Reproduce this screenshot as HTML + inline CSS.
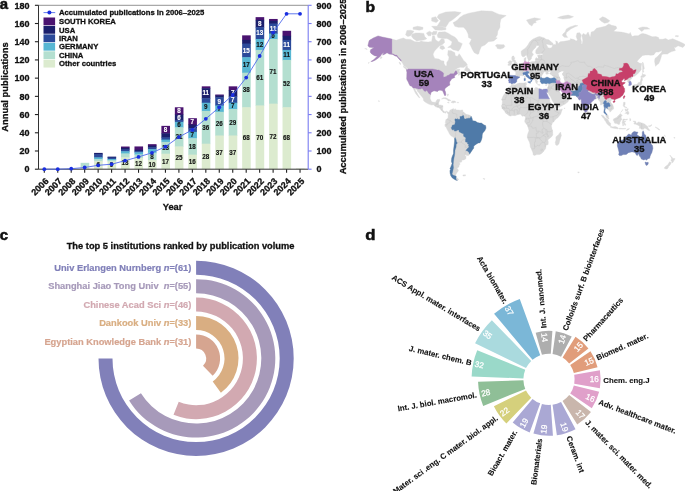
<!DOCTYPE html>
<html lang="en"><head><meta charset="utf-8"><title>Figure</title>
<style>
html,body{margin:0;padding:0;background:#fff;}
body{width:685px;height:491px;overflow:hidden;}
svg{display:block;font-family:'Liberation Sans', sans-serif;}
</style></head><body>
<svg width="685" height="491" viewBox="0 0 685 491">
<rect width="685" height="491" fill="#fff"/>
<g id="panel-a">
<rect x="67.17" y="168.29" width="8.6" height="0.91" fill="#dcebcf"/>
<rect x="80.63" y="162.83" width="8.6" height="4.55" fill="#b4dfd0"/>
<rect x="80.63" y="166.92" width="8.6" height="2.28" fill="#dcebcf"/>
<rect x="94.09" y="152.90" width="8.6" height="1.91" fill="#1b1f6c"/>
<rect x="94.09" y="154.36" width="8.6" height="3.45" fill="#2b4a9a"/>
<rect x="94.09" y="157.36" width="8.6" height="2.27" fill="#58b7d3"/>
<rect x="94.09" y="159.18" width="8.6" height="2.27" fill="#b4dfd0"/>
<rect x="94.09" y="161.00" width="8.6" height="8.19" fill="#dcebcf"/>
<rect x="107.55" y="156.63" width="8.6" height="1.36" fill="#1b1f6c"/>
<rect x="107.55" y="157.54" width="8.6" height="1.91" fill="#2b4a9a"/>
<rect x="107.55" y="159.00" width="8.6" height="1.63" fill="#58b7d3"/>
<rect x="107.55" y="160.19" width="8.6" height="1.63" fill="#b4dfd0"/>
<rect x="107.55" y="161.37" width="8.6" height="7.83" fill="#dcebcf"/>
<rect x="121.01" y="146.53" width="8.6" height="1.72" fill="#4a1370"/>
<rect x="121.01" y="147.80" width="8.6" height="2.09" fill="#1b1f6c"/>
<rect x="121.01" y="149.44" width="8.6" height="2.27" fill="#2b4a9a"/>
<rect x="121.01" y="151.26" width="8.6" height="2.64" fill="#58b7d3"/>
<rect x="121.01" y="153.45" width="8.6" height="4.37" fill="#b4dfd0"/>
<rect x="121.01" y="157.36" width="8.6" height="11.84" fill="#dcebcf"/>
<rect x="134.47" y="146.44" width="8.6" height="3.82" fill="#4a1370"/>
<rect x="134.47" y="149.81" width="8.6" height="1.72" fill="#1b1f6c"/>
<rect x="134.47" y="151.08" width="8.6" height="1.63" fill="#2b4a9a"/>
<rect x="134.47" y="152.26" width="8.6" height="2.64" fill="#58b7d3"/>
<rect x="134.47" y="154.45" width="8.6" height="4.00" fill="#b4dfd0"/>
<rect x="134.47" y="158.00" width="8.6" height="11.20" fill="#dcebcf"/>
<rect x="147.93" y="144.16" width="8.6" height="1.91" fill="#4a1370"/>
<rect x="147.93" y="145.62" width="8.6" height="2.18" fill="#1b1f6c"/>
<rect x="147.93" y="147.35" width="8.6" height="2.27" fill="#2b4a9a"/>
<rect x="147.93" y="149.17" width="8.6" height="4.09" fill="#58b7d3"/>
<rect x="147.93" y="152.81" width="8.6" height="7.73" fill="#b4dfd0"/>
<rect x="147.93" y="160.09" width="8.6" height="9.11" fill="#dcebcf"/>
<rect x="161.39" y="125.86" width="8.6" height="7.92" fill="#4a1370"/>
<rect x="161.39" y="133.32" width="8.6" height="4.55" fill="#1b1f6c"/>
<rect x="161.39" y="137.42" width="8.6" height="2.64" fill="#2b4a9a"/>
<rect x="161.39" y="139.61" width="8.6" height="2.73" fill="#58b7d3"/>
<rect x="161.39" y="141.88" width="8.6" height="12.29" fill="#b4dfd0"/>
<rect x="161.39" y="153.72" width="8.6" height="15.48" fill="#dcebcf"/>
<rect x="174.85" y="107.28" width="8.6" height="7.73" fill="#4a1370"/>
<rect x="174.85" y="114.57" width="8.6" height="5.91" fill="#1b1f6c"/>
<rect x="174.85" y="120.03" width="8.6" height="2.27" fill="#2b4a9a"/>
<rect x="174.85" y="121.85" width="8.6" height="5.91" fill="#58b7d3"/>
<rect x="174.85" y="127.31" width="8.6" height="19.57" fill="#b4dfd0"/>
<rect x="174.85" y="146.44" width="8.6" height="22.76" fill="#dcebcf"/>
<rect x="188.31" y="118.21" width="8.6" height="6.82" fill="#4a1370"/>
<rect x="188.31" y="124.58" width="8.6" height="4.09" fill="#1b1f6c"/>
<rect x="188.31" y="128.22" width="8.6" height="4.09" fill="#2b4a9a"/>
<rect x="188.31" y="131.87" width="8.6" height="6.82" fill="#58b7d3"/>
<rect x="188.31" y="138.24" width="8.6" height="16.84" fill="#b4dfd0"/>
<rect x="188.31" y="154.63" width="8.6" height="14.57" fill="#dcebcf"/>
<rect x="201.77" y="86.34" width="8.6" height="2.27" fill="#4a1370"/>
<rect x="201.77" y="88.16" width="8.6" height="10.47" fill="#1b1f6c"/>
<rect x="201.77" y="98.18" width="8.6" height="5.00" fill="#2b4a9a"/>
<rect x="201.77" y="102.73" width="8.6" height="8.65" fill="#58b7d3"/>
<rect x="201.77" y="110.92" width="8.6" height="33.23" fill="#b4dfd0"/>
<rect x="201.77" y="143.70" width="8.6" height="25.50" fill="#dcebcf"/>
<rect x="215.23" y="94.53" width="8.6" height="1.36" fill="#4a1370"/>
<rect x="215.23" y="95.45" width="8.6" height="2.27" fill="#1b1f6c"/>
<rect x="215.23" y="97.27" width="8.6" height="8.65" fill="#2b4a9a"/>
<rect x="215.23" y="105.46" width="8.6" height="6.82" fill="#58b7d3"/>
<rect x="215.23" y="111.83" width="8.6" height="24.12" fill="#b4dfd0"/>
<rect x="215.23" y="135.51" width="8.6" height="33.69" fill="#dcebcf"/>
<rect x="228.69" y="86.34" width="8.6" height="4.09" fill="#4a1370"/>
<rect x="228.69" y="89.98" width="8.6" height="6.82" fill="#1b1f6c"/>
<rect x="228.69" y="96.36" width="8.6" height="6.82" fill="#2b4a9a"/>
<rect x="228.69" y="102.73" width="8.6" height="6.82" fill="#58b7d3"/>
<rect x="228.69" y="109.10" width="8.6" height="26.86" fill="#b4dfd0"/>
<rect x="228.69" y="135.51" width="8.6" height="33.69" fill="#dcebcf"/>
<rect x="242.15" y="35.35" width="8.6" height="5.00" fill="#4a1370"/>
<rect x="242.15" y="39.90" width="8.6" height="4.09" fill="#1b1f6c"/>
<rect x="242.15" y="43.54" width="8.6" height="14.11" fill="#2b4a9a"/>
<rect x="242.15" y="57.20" width="8.6" height="15.93" fill="#58b7d3"/>
<rect x="242.15" y="72.68" width="8.6" height="35.05" fill="#b4dfd0"/>
<rect x="242.15" y="107.28" width="8.6" height="61.92" fill="#dcebcf"/>
<rect x="255.61" y="17.14" width="8.6" height="3.18" fill="#4a1370"/>
<rect x="255.61" y="19.87" width="8.6" height="7.73" fill="#1b1f6c"/>
<rect x="255.61" y="27.15" width="8.6" height="12.29" fill="#2b4a9a"/>
<rect x="255.61" y="38.99" width="8.6" height="11.38" fill="#58b7d3"/>
<rect x="255.61" y="49.92" width="8.6" height="55.99" fill="#b4dfd0"/>
<rect x="255.61" y="105.46" width="8.6" height="63.74" fill="#dcebcf"/>
<rect x="269.07" y="18.96" width="8.6" height="2.27" fill="#4a1370"/>
<rect x="269.07" y="20.78" width="8.6" height="3.18" fill="#1b1f6c"/>
<rect x="269.07" y="23.51" width="8.6" height="10.47" fill="#2b4a9a"/>
<rect x="269.07" y="33.53" width="8.6" height="5.91" fill="#58b7d3"/>
<rect x="269.07" y="38.99" width="8.6" height="65.10" fill="#b4dfd0"/>
<rect x="269.07" y="103.64" width="8.6" height="65.56" fill="#dcebcf"/>
<rect x="282.53" y="30.80" width="8.6" height="5.46" fill="#4a1370"/>
<rect x="282.53" y="35.80" width="8.6" height="4.55" fill="#1b1f6c"/>
<rect x="282.53" y="39.90" width="8.6" height="10.47" fill="#2b4a9a"/>
<rect x="282.53" y="49.92" width="8.6" height="10.47" fill="#58b7d3"/>
<rect x="282.53" y="59.93" width="8.6" height="47.80" fill="#b4dfd0"/>
<rect x="282.53" y="107.28" width="8.6" height="61.92" fill="#dcebcf"/>
<rect x="295.99" y="168.47" width="8.6" height="0.73" fill="#dcebcf"/>
<path d="M38.5 5.3 H308.2" stroke="#777" stroke-width="0.8" fill="none"/>
<path d="M38.5 5.3 V169.2 H308.2" stroke="#333" stroke-width="1" fill="none"/>
<path d="M34.9 169.20 H38.5" stroke="#222" stroke-width="1.1"/>
<text x="29.60" y="172.45" font-size="9.0" text-anchor="end" fill="#111" stroke="#111" stroke-width="0.3" font-weight="bold">0</text>
<path d="M34.9 150.99 H38.5" stroke="#222" stroke-width="1.1"/>
<text x="29.60" y="154.24" font-size="9.0" text-anchor="end" fill="#111" stroke="#111" stroke-width="0.3" font-weight="bold">20</text>
<path d="M34.9 132.78 H38.5" stroke="#222" stroke-width="1.1"/>
<text x="29.60" y="136.03" font-size="9.0" text-anchor="end" fill="#111" stroke="#111" stroke-width="0.3" font-weight="bold">40</text>
<path d="M34.9 114.57 H38.5" stroke="#222" stroke-width="1.1"/>
<text x="29.60" y="117.82" font-size="9.0" text-anchor="end" fill="#111" stroke="#111" stroke-width="0.3" font-weight="bold">60</text>
<path d="M34.9 96.36 H38.5" stroke="#222" stroke-width="1.1"/>
<text x="29.60" y="99.61" font-size="9.0" text-anchor="end" fill="#111" stroke="#111" stroke-width="0.3" font-weight="bold">80</text>
<path d="M34.9 78.14 H38.5" stroke="#222" stroke-width="1.1"/>
<text x="29.60" y="81.39" font-size="9.0" text-anchor="end" fill="#111" stroke="#111" stroke-width="0.3" font-weight="bold">100</text>
<path d="M34.9 59.93 H38.5" stroke="#222" stroke-width="1.1"/>
<text x="29.60" y="63.18" font-size="9.0" text-anchor="end" fill="#111" stroke="#111" stroke-width="0.3" font-weight="bold">120</text>
<path d="M34.9 41.72 H38.5" stroke="#222" stroke-width="1.1"/>
<text x="29.60" y="44.97" font-size="9.0" text-anchor="end" fill="#111" stroke="#111" stroke-width="0.3" font-weight="bold">140</text>
<path d="M34.9 23.51 H38.5" stroke="#222" stroke-width="1.1"/>
<text x="29.60" y="26.76" font-size="9.0" text-anchor="end" fill="#111" stroke="#111" stroke-width="0.3" font-weight="bold">160</text>
<path d="M34.9 5.30 H38.5" stroke="#222" stroke-width="1.1"/>
<text x="29.60" y="8.55" font-size="9.0" text-anchor="end" fill="#111" stroke="#111" stroke-width="0.3" font-weight="bold">180</text>
<path d="M44.30 169.2 V172.79999999999998" stroke="#222" stroke-width="1.1"/>
<text x="49.20" y="181.80" font-size="9.0" text-anchor="end" fill="#111" stroke="#111" stroke-width="0.3" font-weight="bold" transform="rotate(-45.00 49.20 181.80)">2006</text>
<path d="M57.76 169.2 V172.79999999999998" stroke="#222" stroke-width="1.1"/>
<text x="62.66" y="181.80" font-size="9.0" text-anchor="end" fill="#111" stroke="#111" stroke-width="0.3" font-weight="bold" transform="rotate(-45.00 62.66 181.80)">2007</text>
<path d="M71.22 169.2 V172.79999999999998" stroke="#222" stroke-width="1.1"/>
<text x="76.12" y="181.80" font-size="9.0" text-anchor="end" fill="#111" stroke="#111" stroke-width="0.3" font-weight="bold" transform="rotate(-45.00 76.12 181.80)">2008</text>
<path d="M84.68 169.2 V172.79999999999998" stroke="#222" stroke-width="1.1"/>
<text x="89.58" y="181.80" font-size="9.0" text-anchor="end" fill="#111" stroke="#111" stroke-width="0.3" font-weight="bold" transform="rotate(-45.00 89.58 181.80)">2009</text>
<path d="M98.14 169.2 V172.79999999999998" stroke="#222" stroke-width="1.1"/>
<text x="103.04" y="181.80" font-size="9.0" text-anchor="end" fill="#111" stroke="#111" stroke-width="0.3" font-weight="bold" transform="rotate(-45.00 103.04 181.80)">2010</text>
<path d="M111.60 169.2 V172.79999999999998" stroke="#222" stroke-width="1.1"/>
<text x="116.50" y="181.80" font-size="9.0" text-anchor="end" fill="#111" stroke="#111" stroke-width="0.3" font-weight="bold" transform="rotate(-45.00 116.50 181.80)">2011</text>
<path d="M125.06 169.2 V172.79999999999998" stroke="#222" stroke-width="1.1"/>
<text x="129.96" y="181.80" font-size="9.0" text-anchor="end" fill="#111" stroke="#111" stroke-width="0.3" font-weight="bold" transform="rotate(-45.00 129.96 181.80)">2012</text>
<path d="M138.52 169.2 V172.79999999999998" stroke="#222" stroke-width="1.1"/>
<text x="143.42" y="181.80" font-size="9.0" text-anchor="end" fill="#111" stroke="#111" stroke-width="0.3" font-weight="bold" transform="rotate(-45.00 143.42 181.80)">2013</text>
<path d="M151.98 169.2 V172.79999999999998" stroke="#222" stroke-width="1.1"/>
<text x="156.88" y="181.80" font-size="9.0" text-anchor="end" fill="#111" stroke="#111" stroke-width="0.3" font-weight="bold" transform="rotate(-45.00 156.88 181.80)">2014</text>
<path d="M165.44 169.2 V172.79999999999998" stroke="#222" stroke-width="1.1"/>
<text x="170.34" y="181.80" font-size="9.0" text-anchor="end" fill="#111" stroke="#111" stroke-width="0.3" font-weight="bold" transform="rotate(-45.00 170.34 181.80)">2015</text>
<path d="M178.90 169.2 V172.79999999999998" stroke="#222" stroke-width="1.1"/>
<text x="183.80" y="181.80" font-size="9.0" text-anchor="end" fill="#111" stroke="#111" stroke-width="0.3" font-weight="bold" transform="rotate(-45.00 183.80 181.80)">2016</text>
<path d="M192.36 169.2 V172.79999999999998" stroke="#222" stroke-width="1.1"/>
<text x="197.26" y="181.80" font-size="9.0" text-anchor="end" fill="#111" stroke="#111" stroke-width="0.3" font-weight="bold" transform="rotate(-45.00 197.26 181.80)">2017</text>
<path d="M205.82 169.2 V172.79999999999998" stroke="#222" stroke-width="1.1"/>
<text x="210.72" y="181.80" font-size="9.0" text-anchor="end" fill="#111" stroke="#111" stroke-width="0.3" font-weight="bold" transform="rotate(-45.00 210.72 181.80)">2018</text>
<path d="M219.28 169.2 V172.79999999999998" stroke="#222" stroke-width="1.1"/>
<text x="224.18" y="181.80" font-size="9.0" text-anchor="end" fill="#111" stroke="#111" stroke-width="0.3" font-weight="bold" transform="rotate(-45.00 224.18 181.80)">2019</text>
<path d="M232.74 169.2 V172.79999999999998" stroke="#222" stroke-width="1.1"/>
<text x="237.64" y="181.80" font-size="9.0" text-anchor="end" fill="#111" stroke="#111" stroke-width="0.3" font-weight="bold" transform="rotate(-45.00 237.64 181.80)">2020</text>
<path d="M246.20 169.2 V172.79999999999998" stroke="#222" stroke-width="1.1"/>
<text x="251.10" y="181.80" font-size="9.0" text-anchor="end" fill="#111" stroke="#111" stroke-width="0.3" font-weight="bold" transform="rotate(-45.00 251.10 181.80)">2021</text>
<path d="M259.66 169.2 V172.79999999999998" stroke="#222" stroke-width="1.1"/>
<text x="264.56" y="181.80" font-size="9.0" text-anchor="end" fill="#111" stroke="#111" stroke-width="0.3" font-weight="bold" transform="rotate(-45.00 264.56 181.80)">2022</text>
<path d="M273.12 169.2 V172.79999999999998" stroke="#222" stroke-width="1.1"/>
<text x="278.02" y="181.80" font-size="9.0" text-anchor="end" fill="#111" stroke="#111" stroke-width="0.3" font-weight="bold" transform="rotate(-45.00 278.02 181.80)">2023</text>
<path d="M286.58 169.2 V172.79999999999998" stroke="#222" stroke-width="1.1"/>
<text x="291.48" y="181.80" font-size="9.0" text-anchor="end" fill="#111" stroke="#111" stroke-width="0.3" font-weight="bold" transform="rotate(-45.00 291.48 181.80)">2024</text>
<path d="M300.04 169.2 V172.79999999999998" stroke="#222" stroke-width="1.1"/>
<text x="304.94" y="181.80" font-size="9.0" text-anchor="end" fill="#111" stroke="#111" stroke-width="0.3" font-weight="bold" transform="rotate(-45.00 304.94 181.80)">2025</text>
<path d="M308.2 5.3 V169.2" stroke="#7a7cf0" stroke-width="1.1" fill="none"/>
<path d="M308.2 169.20 H311.59999999999997" stroke="#7a7cf0" stroke-width="1.1"/>
<text x="316.60" y="172.45" font-size="9.0" text-anchor="start" fill="#111" stroke="#111" stroke-width="0.3" font-weight="bold">0</text>
<path d="M308.2 150.99 H311.59999999999997" stroke="#7a7cf0" stroke-width="1.1"/>
<text x="316.60" y="154.24" font-size="9.0" text-anchor="start" fill="#111" stroke="#111" stroke-width="0.3" font-weight="bold">100</text>
<path d="M308.2 132.78 H311.59999999999997" stroke="#7a7cf0" stroke-width="1.1"/>
<text x="316.60" y="136.03" font-size="9.0" text-anchor="start" fill="#111" stroke="#111" stroke-width="0.3" font-weight="bold">200</text>
<path d="M308.2 114.57 H311.59999999999997" stroke="#7a7cf0" stroke-width="1.1"/>
<text x="316.60" y="117.82" font-size="9.0" text-anchor="start" fill="#111" stroke="#111" stroke-width="0.3" font-weight="bold">300</text>
<path d="M308.2 96.36 H311.59999999999997" stroke="#7a7cf0" stroke-width="1.1"/>
<text x="316.60" y="99.61" font-size="9.0" text-anchor="start" fill="#111" stroke="#111" stroke-width="0.3" font-weight="bold">400</text>
<path d="M308.2 78.14 H311.59999999999997" stroke="#7a7cf0" stroke-width="1.1"/>
<text x="316.60" y="81.39" font-size="9.0" text-anchor="start" fill="#111" stroke="#111" stroke-width="0.3" font-weight="bold">500</text>
<path d="M308.2 59.93 H311.59999999999997" stroke="#7a7cf0" stroke-width="1.1"/>
<text x="316.60" y="63.18" font-size="9.0" text-anchor="start" fill="#111" stroke="#111" stroke-width="0.3" font-weight="bold">600</text>
<path d="M308.2 41.72 H311.59999999999997" stroke="#7a7cf0" stroke-width="1.1"/>
<text x="316.60" y="44.97" font-size="9.0" text-anchor="start" fill="#111" stroke="#111" stroke-width="0.3" font-weight="bold">700</text>
<path d="M308.2 23.51 H311.59999999999997" stroke="#7a7cf0" stroke-width="1.1"/>
<text x="316.60" y="26.76" font-size="9.0" text-anchor="start" fill="#111" stroke="#111" stroke-width="0.3" font-weight="bold">800</text>
<path d="M308.2 5.30 H311.59999999999997" stroke="#7a7cf0" stroke-width="1.1"/>
<text x="316.60" y="8.55" font-size="9.0" text-anchor="start" fill="#111" stroke="#111" stroke-width="0.3" font-weight="bold">900</text>
<text x="125.06" y="165.48" font-size="6.3" text-anchor="middle" fill="#111" stroke="#111" stroke-width="0.12" font-weight="bold">13</text>
<text x="138.52" y="165.80" font-size="6.3" text-anchor="middle" fill="#111" stroke="#111" stroke-width="0.12" font-weight="bold">12</text>
<text x="151.98" y="166.85" font-size="6.3" text-anchor="middle" fill="#111" stroke="#111" stroke-width="0.12" font-weight="bold">10</text>
<text x="151.98" y="158.65" font-size="6.3" text-anchor="middle" fill="#111" stroke="#111" stroke-width="0.12" font-weight="bold">8</text>
<text x="165.44" y="163.66" font-size="6.3" text-anchor="middle" fill="#111" stroke="#111" stroke-width="0.12" font-weight="bold">17</text>
<text x="165.44" y="150.00" font-size="6.3" text-anchor="middle" fill="#111" stroke="#111" stroke-width="0.12" font-weight="bold">13</text>
<text x="165.44" y="131.79" font-size="6.3" text-anchor="middle" fill="#fff" stroke="#fff" stroke-width="0.12" font-weight="bold">8</text>
<text x="178.90" y="160.02" font-size="6.3" text-anchor="middle" fill="#111" stroke="#111" stroke-width="0.12" font-weight="bold">25</text>
<text x="178.90" y="139.08" font-size="6.3" text-anchor="middle" fill="#111" stroke="#111" stroke-width="0.12" font-weight="bold">21</text>
<text x="178.90" y="126.78" font-size="6.3" text-anchor="middle" fill="#111" stroke="#111" stroke-width="0.12" font-weight="bold">6</text>
<text x="178.90" y="119.50" font-size="6.3" text-anchor="middle" fill="#fff" stroke="#fff" stroke-width="0.12" font-weight="bold">6</text>
<text x="178.90" y="113.12" font-size="6.3" text-anchor="middle" fill="#fff" stroke="#fff" stroke-width="0.12" font-weight="bold">8</text>
<text x="192.36" y="164.12" font-size="6.3" text-anchor="middle" fill="#111" stroke="#111" stroke-width="0.12" font-weight="bold">16</text>
<text x="192.36" y="148.64" font-size="6.3" text-anchor="middle" fill="#111" stroke="#111" stroke-width="0.12" font-weight="bold">18</text>
<text x="192.36" y="137.25" font-size="6.3" text-anchor="middle" fill="#111" stroke="#111" stroke-width="0.12" font-weight="bold">7</text>
<text x="192.36" y="123.60" font-size="6.3" text-anchor="middle" fill="#fff" stroke="#fff" stroke-width="0.12" font-weight="bold">7</text>
<text x="205.82" y="158.65" font-size="6.3" text-anchor="middle" fill="#111" stroke="#111" stroke-width="0.12" font-weight="bold">28</text>
<text x="205.82" y="129.51" font-size="6.3" text-anchor="middle" fill="#111" stroke="#111" stroke-width="0.12" font-weight="bold">36</text>
<text x="205.82" y="109.03" font-size="6.3" text-anchor="middle" fill="#111" stroke="#111" stroke-width="0.12" font-weight="bold">9</text>
<text x="205.82" y="95.37" font-size="6.3" text-anchor="middle" fill="#fff" stroke="#fff" stroke-width="0.12" font-weight="bold">11</text>
<text x="219.28" y="154.55" font-size="6.3" text-anchor="middle" fill="#111" stroke="#111" stroke-width="0.12" font-weight="bold">37</text>
<text x="219.28" y="125.87" font-size="6.3" text-anchor="middle" fill="#111" stroke="#111" stroke-width="0.12" font-weight="bold">26</text>
<text x="219.28" y="110.85" font-size="6.3" text-anchor="middle" fill="#111" stroke="#111" stroke-width="0.12" font-weight="bold">7</text>
<text x="219.28" y="103.56" font-size="6.3" text-anchor="middle" fill="#fff" stroke="#fff" stroke-width="0.12" font-weight="bold">9</text>
<text x="232.74" y="154.55" font-size="6.3" text-anchor="middle" fill="#111" stroke="#111" stroke-width="0.12" font-weight="bold">37</text>
<text x="232.74" y="124.51" font-size="6.3" text-anchor="middle" fill="#111" stroke="#111" stroke-width="0.12" font-weight="bold">29</text>
<text x="232.74" y="108.12" font-size="6.3" text-anchor="middle" fill="#111" stroke="#111" stroke-width="0.12" font-weight="bold">7</text>
<text x="232.74" y="101.74" font-size="6.3" text-anchor="middle" fill="#fff" stroke="#fff" stroke-width="0.12" font-weight="bold">7</text>
<text x="232.74" y="95.37" font-size="6.3" text-anchor="middle" fill="#fff" stroke="#fff" stroke-width="0.12" font-weight="bold">7</text>
<text x="246.20" y="140.44" font-size="6.3" text-anchor="middle" fill="#111" stroke="#111" stroke-width="0.12" font-weight="bold">68</text>
<text x="246.20" y="92.18" font-size="6.3" text-anchor="middle" fill="#111" stroke="#111" stroke-width="0.12" font-weight="bold">38</text>
<text x="246.20" y="67.14" font-size="6.3" text-anchor="middle" fill="#111" stroke="#111" stroke-width="0.12" font-weight="bold">17</text>
<text x="246.20" y="52.57" font-size="6.3" text-anchor="middle" fill="#fff" stroke="#fff" stroke-width="0.12" font-weight="bold">15</text>
<text x="259.66" y="139.53" font-size="6.3" text-anchor="middle" fill="#111" stroke="#111" stroke-width="0.12" font-weight="bold">70</text>
<text x="259.66" y="79.89" font-size="6.3" text-anchor="middle" fill="#111" stroke="#111" stroke-width="0.12" font-weight="bold">61</text>
<text x="259.66" y="46.65" font-size="6.3" text-anchor="middle" fill="#111" stroke="#111" stroke-width="0.12" font-weight="bold">12</text>
<text x="259.66" y="35.27" font-size="6.3" text-anchor="middle" fill="#fff" stroke="#fff" stroke-width="0.12" font-weight="bold">13</text>
<text x="259.66" y="25.71" font-size="6.3" text-anchor="middle" fill="#fff" stroke="#fff" stroke-width="0.12" font-weight="bold">8</text>
<text x="273.12" y="138.62" font-size="6.3" text-anchor="middle" fill="#111" stroke="#111" stroke-width="0.12" font-weight="bold">72</text>
<text x="273.12" y="73.52" font-size="6.3" text-anchor="middle" fill="#111" stroke="#111" stroke-width="0.12" font-weight="bold">71</text>
<text x="273.12" y="38.46" font-size="6.3" text-anchor="middle" fill="#111" stroke="#111" stroke-width="0.12" font-weight="bold">6</text>
<text x="273.12" y="30.72" font-size="6.3" text-anchor="middle" fill="#fff" stroke="#fff" stroke-width="0.12" font-weight="bold">11</text>
<text x="286.58" y="140.44" font-size="6.3" text-anchor="middle" fill="#111" stroke="#111" stroke-width="0.12" font-weight="bold">68</text>
<text x="286.58" y="85.81" font-size="6.3" text-anchor="middle" fill="#111" stroke="#111" stroke-width="0.12" font-weight="bold">52</text>
<text x="286.58" y="57.13" font-size="6.3" text-anchor="middle" fill="#111" stroke="#111" stroke-width="0.12" font-weight="bold">11</text>
<text x="286.58" y="47.11" font-size="6.3" text-anchor="middle" fill="#fff" stroke="#fff" stroke-width="0.12" font-weight="bold">11</text>
<text x="98.14" y="167.30" font-size="6.3" text-anchor="middle" fill="#111" stroke="#111" stroke-width="0.12" font-weight="bold">6</text>
<text x="111.60" y="167.48" font-size="6.3" text-anchor="middle" fill="#111" stroke="#111" stroke-width="0.12" font-weight="bold">9</text>
<polyline points="44.30,169.20 57.76,169.20 71.22,168.70 84.68,167.50 98.14,165.30 111.60,164.20 125.06,160.70 138.52,156.90 151.98,152.80 165.44,146.70 178.90,137.10 192.36,129.80 205.82,118.80 219.28,107.30 232.74,95.00 246.20,77.60 259.66,56.00 273.12,32.60 286.58,13.80 300.04,13.80" fill="none" stroke="#4f6aec" stroke-width="0.9"/>
<circle cx="44.30" cy="169.20" r="1.9" fill="#1a2fe0"/>
<circle cx="57.76" cy="169.20" r="1.9" fill="#1a2fe0"/>
<circle cx="71.22" cy="168.70" r="1.9" fill="#1a2fe0"/>
<circle cx="84.68" cy="167.50" r="1.9" fill="#1a2fe0"/>
<circle cx="98.14" cy="165.30" r="1.9" fill="#1a2fe0"/>
<circle cx="111.60" cy="164.20" r="1.9" fill="#1a2fe0"/>
<circle cx="125.06" cy="160.70" r="1.9" fill="#1a2fe0"/>
<circle cx="138.52" cy="156.90" r="1.9" fill="#1a2fe0"/>
<circle cx="151.98" cy="152.80" r="1.9" fill="#1a2fe0"/>
<circle cx="165.44" cy="146.70" r="1.9" fill="#1a2fe0"/>
<circle cx="178.90" cy="137.10" r="1.9" fill="#1a2fe0"/>
<circle cx="192.36" cy="129.80" r="1.9" fill="#1a2fe0"/>
<circle cx="205.82" cy="118.80" r="1.9" fill="#1a2fe0"/>
<circle cx="219.28" cy="107.30" r="1.9" fill="#1a2fe0"/>
<circle cx="232.74" cy="95.00" r="1.9" fill="#1a2fe0"/>
<circle cx="246.20" cy="77.60" r="1.9" fill="#1a2fe0"/>
<circle cx="259.66" cy="56.00" r="1.9" fill="#1a2fe0"/>
<circle cx="273.12" cy="32.60" r="1.9" fill="#1a2fe0"/>
<circle cx="286.58" cy="13.80" r="1.9" fill="#1a2fe0"/>
<circle cx="300.04" cy="13.80" r="1.9" fill="#1a2fe0"/>
<path d="M43.5 12.6 H55.2" stroke="#4f6aec" stroke-width="0.9"/><circle cx="49.4" cy="12.6" r="2.0" fill="#1a2fe0"/>
<text x="59.00" y="15.30" font-size="7.7" text-anchor="start" fill="#111" stroke="#111" stroke-width="0.3" font-weight="bold">Accumulated publications in 2006–2025</text>
<rect x="43.5" y="17.50" width="11.6" height="7.8" fill="#4a1370"/>
<text x="59.00" y="24.10" font-size="7.7" text-anchor="start" fill="#111" stroke="#111" stroke-width="0.3" font-weight="bold">SOUTH KOREA</text>
<rect x="43.5" y="25.95" width="11.6" height="7.8" fill="#1b1f6c"/>
<text x="59.00" y="32.55" font-size="7.7" text-anchor="start" fill="#111" stroke="#111" stroke-width="0.3" font-weight="bold">USA</text>
<rect x="43.5" y="34.40" width="11.6" height="7.8" fill="#2b4a9a"/>
<text x="59.00" y="41.00" font-size="7.7" text-anchor="start" fill="#111" stroke="#111" stroke-width="0.3" font-weight="bold">IRAN</text>
<rect x="43.5" y="42.85" width="11.6" height="7.8" fill="#58b7d3"/>
<text x="59.00" y="49.45" font-size="7.7" text-anchor="start" fill="#111" stroke="#111" stroke-width="0.3" font-weight="bold">GERMANY</text>
<rect x="43.5" y="51.30" width="11.6" height="7.8" fill="#b4dfd0"/>
<text x="59.00" y="57.90" font-size="7.7" text-anchor="start" fill="#111" stroke="#111" stroke-width="0.3" font-weight="bold">CHINA</text>
<rect x="43.5" y="59.75" width="11.6" height="7.8" fill="#dcebcf"/>
<text x="59.00" y="66.35" font-size="7.7" text-anchor="start" fill="#111" stroke="#111" stroke-width="0.3" font-weight="bold">Other countries</text>
<text x="8.00" y="87.00" font-size="9.4" text-anchor="middle" fill="#111" stroke="#111" stroke-width="0.3" font-weight="bold" transform="rotate(-90.00 8.00 87.00)">Annual publications</text>
<text x="346.00" y="86.50" font-size="9.3" text-anchor="middle" fill="#111" stroke="#111" stroke-width="0.3" font-weight="bold" transform="rotate(-90.00 346.00 86.50)">Accumulated publications in 2006–2025</text>
<text x="172.60" y="209.80" font-size="9.3" text-anchor="middle" fill="#111" stroke="#111" stroke-width="0.3" font-weight="bold">Year</text>
<text transform="translate(-0.30 9.00) scale(1.08 1)" font-size="13.8" font-weight="bold" fill="#111" stroke="#111" stroke-width="0.5">a</text>
</g>
<g id="panel-b">
<clipPath id="mapclip"><rect x="350" y="9.5" width="335" height="180"/></clipPath>
<g clip-path="url(#mapclip)">
<path d="M367.9 45.7 L369.0 41.2 L369.5 40.3 L373.4 37.9 L378.1 35.9 L382.1 37.0 L385.7 37.7 L391.9 39.1 L396.3 40.3 L399.0 39.3 L403.4 38.0 L406.0 39.3 L410.5 39.4 L414.9 41.8 L419.3 41.9 L421.1 40.9 L423.8 41.8 L428.2 42.1 L431.7 41.4 L432.6 35.8 L434.4 35.8 L435.3 39.3 L437.1 40.9 L438.8 41.8 L441.5 38.7 L444.1 39.3 L444.6 42.6 L442.4 44.6 L439.7 45.8 L437.1 48.2 L434.4 51.2 L433.1 54.1 L433.5 55.9 L434.8 58.4 L438.8 59.1 L441.5 60.7 L443.9 61.0 L444.1 63.8 L445.5 66.0 L446.8 65.7 L446.8 62.4 L448.6 59.7 L449.0 57.0 L447.7 54.9 L448.1 50.5 L451.2 50.8 L454.8 52.7 L455.2 55.6 L457.4 56.6 L459.2 53.7 L460.1 54.9 L461.9 57.7 L463.6 60.4 L465.9 62.4 L467.4 65.1 L466.3 65.8 L463.6 67.4 L460.1 67.2 L457.4 68.2 L455.2 70.1 L453.9 71.6 L456.6 69.5 L459.8 69.0 L459.2 71.3 L459.7 72.3 L462.8 73.1 L463.6 71.9 L462.8 73.5 L460.1 74.6 L458.3 75.4 L458.3 74.3 L459.7 73.1 L457.4 73.7 L455.7 74.9 L454.3 76.1 L454.8 77.5 L453.0 78.2 L451.2 78.9 L451.2 80.1 L449.9 81.3 L449.5 82.9 L449.9 84.9 L448.6 85.7 L446.8 87.1 L445.0 88.4 L444.7 90.0 L445.5 92.1 L445.8 94.7 L445.5 95.5 L444.6 95.5 L444.1 94.2 L443.4 92.6 L442.8 91.1 L441.9 90.5 L440.6 90.2 L438.8 90.2 L437.7 91.4 L436.2 91.3 L434.0 90.8 L432.6 91.4 L430.9 92.6 L430.6 94.7 L430.1 98.3 L431.3 101.3 L432.6 102.1 L434.4 102.3 L435.7 102.2 L436.6 100.3 L437.1 99.6 L439.7 99.3 L439.7 100.8 L438.8 102.3 L438.6 104.3 L438.4 105.0 L440.6 104.9 L443.0 105.8 L442.8 107.8 L442.6 109.7 L443.4 111.0 L445.0 111.9 L446.4 111.2 L448.1 112.0 L448.3 112.2 L447.8 113.4 L447.2 112.4 L446.4 111.8 L445.5 113.3 L444.1 112.5 L443.3 112.4 L441.5 110.7 L440.8 109.7 L439.3 107.8 L437.5 107.4 L435.7 106.8 L435.0 106.2 L433.5 104.7 L431.7 105.1 L430.0 104.6 L428.2 103.8 L426.4 102.8 L424.7 101.8 L423.3 100.3 L423.5 99.0 L422.4 97.3 L421.1 95.7 L419.8 94.2 L418.9 92.8 L417.6 91.6 L416.7 89.5 L415.1 88.6 L415.4 90.5 L416.9 92.6 L418.0 94.7 L418.9 96.3 L419.8 97.6 L419.3 97.9 L417.6 95.9 L415.8 93.7 L414.9 92.1 L414.0 90.0 L413.0 87.9 L411.8 86.2 L410.0 85.7 L408.7 83.2 L408.3 82.1 L407.1 80.1 L406.7 79.0 L406.8 76.1 L406.9 72.3 L406.3 69.6 L407.8 69.7 L408.3 68.9 L407.6 68.5 L406.0 67.0 L403.8 65.7 L402.9 63.8 L401.6 61.8 L400.3 60.4 L398.5 58.4 L396.7 56.3 L395.0 55.9 L392.8 54.4 L389.2 54.1 L387.0 52.7 L385.2 53.9 L382.6 55.1 L383.9 52.4 L381.7 54.1 L380.4 56.3 L377.7 58.4 L375.0 60.3 L372.4 61.4 L370.8 61.6 L373.3 60.0 L375.9 57.7 L377.3 56.0 L375.0 55.9 L373.3 54.9 L371.1 53.4 L370.2 52.0 L370.6 49.7 L374.2 47.4 L372.4 47.4 L369.3 47.2Z" fill="#d9d9d9" stroke="#d9d9d9" stroke-width="0.4" stroke-linejoin="round"/>
<path d="M453.0 22.8 L457.0 20.5 L459.7 17.6 L463.6 14.9 L469.0 13.2 L481.4 10.8 L492.0 11.3 L499.1 14.4 L506.2 15.6 L500.9 19.0 L500.0 23.2 L500.0 27.3 L497.8 31.2 L497.3 34.9 L495.5 37.5 L497.3 37.9 L493.8 40.9 L488.4 41.8 L484.9 45.0 L481.4 46.6 L479.6 50.5 L478.7 53.9 L477.4 54.3 L474.3 52.7 L472.5 49.7 L470.7 45.8 L469.4 43.4 L471.6 39.3 L468.5 37.5 L468.1 34.0 L466.3 30.2 L463.6 27.3 L458.3 27.3 L454.8 26.3 L453.9 24.3Z" fill="#d9d9d9" stroke="#d9d9d9" stroke-width="0.4" stroke-linejoin="round"/>
<path d="M462.3 43.7 L460.1 48.9 L458.3 51.2 L456.6 50.5 L453.0 49.7 L450.3 47.4 L447.7 47.4 L451.2 45.0 L452.1 41.8 L448.6 39.3 L446.8 38.4 L442.4 38.4 L437.9 37.5 L437.1 34.9 L438.8 32.1 L441.5 32.1 L445.0 31.7 L448.6 33.4 L451.2 35.2 L454.8 37.0 L457.0 39.3 L458.3 41.8 L461.9 43.4Z" fill="#d9d9d9" stroke="#d9d9d9" stroke-width="0.4" stroke-linejoin="round"/>
<path d="M413.1 38.4 L416.7 40.9 L419.3 40.4 L423.8 40.1 L426.9 38.7 L424.7 36.6 L423.8 33.4 L419.3 33.0 L415.8 33.0 L412.3 34.0 L411.4 36.1Z" fill="#d9d9d9" stroke="#d9d9d9" stroke-width="0.4" stroke-linejoin="round"/>
<path d="M405.6 34.9 L407.8 36.5 L410.5 35.8 L412.7 33.0 L414.0 31.2 L410.5 30.2 L406.9 30.6Z" fill="#d9d9d9" stroke="#d9d9d9" stroke-width="0.4" stroke-linejoin="round"/>
<path d="M437.1 26.3 L445.9 26.9 L447.7 24.3 L449.0 22.0 L452.6 19.8 L455.7 17.2 L459.2 14.4 L461.0 12.5 L454.8 11.6 L445.9 12.0 L438.8 14.4 L437.1 17.2 L440.6 20.7Z" fill="#d9d9d9" stroke="#d9d9d9" stroke-width="0.4" stroke-linejoin="round"/>
<path d="M431.7 26.3 L435.3 30.0 L441.5 30.2 L445.9 29.8 L445.9 27.7 L438.8 26.3Z" fill="#d9d9d9" stroke="#d9d9d9" stroke-width="0.4" stroke-linejoin="round"/>
<path d="M413.1 29.3 L419.3 30.2 L422.9 29.3 L422.9 27.3 L417.6 26.3 L413.1 27.3Z" fill="#d9d9d9" stroke="#d9d9d9" stroke-width="0.4" stroke-linejoin="round"/>
<path d="M426.4 33.0 L428.2 35.8 L430.9 35.8 L431.7 32.5 L429.5 31.2Z" fill="#d9d9d9" stroke="#d9d9d9" stroke-width="0.4" stroke-linejoin="round"/>
<path d="M432.2 34.9 L436.2 34.5 L437.1 31.6 L433.5 31.2 L431.7 33.0Z" fill="#d9d9d9" stroke="#d9d9d9" stroke-width="0.4" stroke-linejoin="round"/>
<path d="M431.7 21.1 L436.2 22.6 L438.4 20.7 L435.7 16.7 L431.7 17.8Z" fill="#d9d9d9" stroke="#d9d9d9" stroke-width="0.4" stroke-linejoin="round"/>
<path d="M439.7 48.2 L442.4 49.7 L445.0 48.2 L443.3 45.8 L440.6 45.8Z" fill="#d9d9d9" stroke="#d9d9d9" stroke-width="0.4" stroke-linejoin="round"/>
<path d="M464.3 70.3 L467.2 71.4 L469.8 71.8 L470.1 70.7 L469.4 68.9 L467.6 67.9 L467.2 65.7 L465.9 67.0 L465.0 68.9Z" fill="#d9d9d9" stroke="#d9d9d9" stroke-width="0.4" stroke-linejoin="round"/>
<path d="M403.1 66.7 L406.0 69.2 L407.5 69.6 L406.0 67.6 L403.8 66.3Z" fill="#d9d9d9" stroke="#d9d9d9" stroke-width="0.4" stroke-linejoin="round"/>
<path d="M399.0 62.4 L400.3 64.7 L400.7 63.8 L399.8 62.3Z" fill="#d9d9d9" stroke="#d9d9d9" stroke-width="0.4" stroke-linejoin="round"/>
<path d="M441.5 99.0 L443.3 97.8 L445.9 97.8 L448.6 99.3 L451.1 100.6 L448.1 100.9 L447.7 100.1 L446.4 99.2 L444.1 98.4 L442.4 98.9Z" fill="#d9d9d9" stroke="#d9d9d9" stroke-width="0.4" stroke-linejoin="round"/>
<path d="M450.9 102.3 L452.6 100.9 L454.8 101.0 L456.2 102.2 L454.3 102.6 L453.3 103.1Z" fill="#d9d9d9" stroke="#d9d9d9" stroke-width="0.4" stroke-linejoin="round"/>
<path d="M447.4 102.5 L448.6 102.3 L449.3 102.8 L448.1 103.0Z" fill="#d9d9d9" stroke="#d9d9d9" stroke-width="0.4" stroke-linejoin="round"/>
<path d="M457.3 102.3 L458.7 102.4 L458.6 102.8 L457.3 102.8Z" fill="#d9d9d9" stroke="#d9d9d9" stroke-width="0.4" stroke-linejoin="round"/>
<path d="M495.3 45.8 L496.9 44.4 L500.9 44.7 L504.0 44.7 L504.8 46.6 L503.5 47.9 L500.4 49.1 L497.3 48.5 L496.9 46.9Z" fill="#d9d9d9" stroke="#d9d9d9" stroke-width="0.4" stroke-linejoin="round"/>
<path d="M448.3 112.2 L449.5 111.4 L449.9 110.2 L450.8 109.7 L452.1 109.2 L453.5 108.4 L453.5 109.7 L454.8 109.2 L455.0 108.7 L456.6 110.1 L458.3 110.1 L460.1 110.3 L461.9 110.0 L462.8 111.2 L463.2 112.2 L464.5 112.7 L465.9 114.3 L468.1 114.7 L470.3 115.6 L471.2 116.2 L472.1 118.5 L472.5 120.4 L473.8 120.9 L475.2 121.1 L477.4 122.6 L479.6 123.1 L481.4 123.1 L482.7 124.0 L484.0 125.0 L485.5 125.4 L485.8 126.7 L486.0 128.1 L484.9 130.6 L483.1 132.7 L482.7 133.0 L482.2 135.0 L482.1 137.5 L481.4 140.0 L480.5 142.0 L479.6 143.0 L478.3 143.0 L476.9 143.8 L475.2 144.9 L473.8 146.1 L473.7 148.2 L472.5 149.7 L470.7 152.4 L469.4 154.6 L468.5 155.4 L466.7 155.4 L465.4 154.6 L465.0 155.2 L466.1 156.7 L465.7 159.0 L463.6 159.9 L461.9 160.1 L461.6 162.1 L459.2 162.4 L460.1 164.1 L459.2 165.3 L458.8 167.1 L457.0 168.3 L458.3 170.1 L458.4 170.7 L456.6 173.2 L455.7 175.1 L456.2 176.3 L456.1 177.0 L458.8 179.4 L457.4 180.4 L455.7 180.1 L453.9 179.0 L452.1 177.7 L450.8 175.7 L450.1 173.2 L449.9 170.7 L450.8 168.9 L449.9 168.9 L451.2 165.9 L452.1 163.5 L451.4 161.2 L451.7 158.1 L452.6 155.6 L453.5 153.5 L453.5 150.3 L453.9 147.1 L454.3 144.0 L454.6 141.0 L454.5 138.4 L453.5 137.3 L451.2 136.0 L449.5 134.0 L448.6 132.0 L447.2 129.6 L446.4 127.7 L445.0 126.2 L444.8 124.8 L445.7 123.7 L445.9 122.8 L445.1 122.5 L445.5 121.4 L445.9 119.6 L447.0 119.0 L448.1 118.0 L448.1 116.5 L448.3 114.6 L447.8 113.4Z" fill="#d9d9d9" stroke="#d9d9d9" stroke-width="0.4" stroke-linejoin="round"/>
<path d="M462.8 175.1 L465.4 174.8 L465.6 175.7 L463.2 176.1Z" fill="#d9d9d9" stroke="#d9d9d9" stroke-width="0.4" stroke-linejoin="round"/>
<path d="M539.7 36.5 L544.3 37.9 L546.0 39.3 L548.7 39.8 L553.1 43.4 L553.1 44.7 L550.5 45.0 L547.4 44.2 L546.0 44.2 L547.4 46.6 L547.8 47.7 L550.0 48.2 L552.2 47.2 L552.2 45.4 L554.0 44.4 L555.8 44.7 L556.0 41.8 L555.3 40.8 L557.6 41.8 L558.0 43.7 L560.2 41.8 L564.2 41.3 L567.3 40.8 L570.4 40.1 L570.4 38.7 L573.9 39.6 L576.2 40.9 L577.5 40.1 L576.2 36.6 L577.0 33.0 L579.7 32.7 L581.3 34.9 L580.6 38.4 L581.5 42.1 L581.0 44.2 L582.4 43.4 L582.8 40.1 L581.9 35.8 L583.2 33.4 L585.9 34.9 L588.1 32.1 L589.5 35.8 L590.3 37.5 L591.2 32.1 L593.9 31.2 L596.5 28.3 L601.0 27.3 L605.4 26.3 L608.9 23.9 L611.6 25.3 L616.0 26.3 L616.9 28.3 L613.4 31.2 L616.9 31.7 L621.3 32.1 L625.8 33.0 L629.3 34.0 L630.2 32.5 L632.0 36.6 L634.6 35.8 L638.2 35.8 L640.8 34.0 L642.6 33.4 L646.2 34.3 L649.7 35.8 L652.4 36.8 L655.9 36.6 L658.6 37.5 L659.0 39.3 L663.0 39.3 L665.6 38.4 L668.3 40.1 L672.7 38.7 L676.3 40.3 L679.8 41.8 L683.4 43.4 L685.4 44.9 L682.9 47.4 L678.1 45.8 L675.4 47.4 L674.1 47.1 L675.4 50.5 L671.8 51.5 L669.2 52.7 L667.4 54.1 L663.9 54.1 L661.7 54.4 L661.2 57.0 L660.3 59.7 L659.9 61.1 L658.6 63.8 L657.2 64.4 L655.6 66.3 L655.0 63.8 L654.6 61.1 L655.0 58.4 L657.7 56.3 L659.9 54.1 L661.7 52.0 L662.1 50.5 L658.6 52.0 L655.9 52.0 L653.7 54.9 L650.6 55.3 L648.8 54.9 L645.3 55.1 L642.6 55.6 L639.5 58.4 L636.9 61.5 L638.6 62.4 L639.1 63.1 L641.7 63.5 L641.3 65.7 L641.1 67.6 L641.3 69.5 L639.5 71.9 L637.7 73.7 L636.9 74.6 L634.6 76.3 L633.8 75.9 L632.6 76.9 L631.7 77.8 L631.5 79.0 L629.8 80.1 L630.7 81.3 L631.4 82.9 L631.4 84.6 L631.1 85.0 L629.8 85.5 L628.8 85.7 L628.9 84.1 L629.1 82.9 L628.6 82.1 L627.5 81.8 L627.8 80.1 L627.0 79.6 L625.8 79.9 L624.4 80.8 L624.9 79.0 L624.0 78.5 L622.2 80.5 L621.2 80.7 L621.8 81.8 L622.2 82.6 L624.0 82.3 L625.3 82.7 L624.9 83.2 L623.6 83.9 L622.5 85.2 L623.4 86.5 L624.0 87.9 L624.7 88.7 L624.7 89.6 L624.0 90.0 L624.9 90.7 L624.4 92.1 L623.6 93.5 L622.8 95.2 L621.3 96.3 L620.2 97.5 L618.1 98.3 L616.9 98.8 L615.1 99.4 L614.6 100.5 L614.0 99.3 L612.8 99.2 L611.3 100.1 L610.5 101.8 L611.2 103.3 L612.8 104.8 L613.6 107.3 L613.6 108.9 L611.6 110.3 L611.2 111.2 L609.8 112.1 L609.8 110.4 L608.5 110.1 L607.6 108.8 L606.3 108.1 L605.8 107.3 L605.4 107.8 L605.2 109.2 L604.8 111.2 L605.7 112.7 L606.3 113.7 L607.2 114.4 L608.3 115.8 L608.5 117.7 L609.1 119.0 L608.3 119.0 L606.6 117.6 L605.8 116.0 L605.7 114.3 L605.0 113.4 L603.9 112.7 L603.9 111.2 L604.2 109.7 L604.1 108.3 L603.8 106.8 L603.4 104.5 L602.6 104.0 L601.2 105.0 L600.3 104.8 L600.5 102.8 L599.6 101.0 L598.6 100.0 L598.3 98.8 L597.4 98.3 L597.0 98.8 L595.7 99.0 L593.9 99.3 L593.7 100.3 L592.6 101.1 L591.2 102.5 L589.7 104.2 L588.4 105.0 L587.9 105.8 L587.9 107.6 L587.5 109.7 L587.5 110.4 L586.8 111.4 L586.1 111.8 L585.5 112.6 L584.4 110.9 L583.7 108.9 L583.1 107.8 L582.5 105.8 L581.8 104.3 L581.3 101.8 L581.2 99.8 L581.0 99.0 L579.5 100.0 L577.9 98.5 L579.0 97.8 L577.5 97.3 L576.6 96.8 L575.9 95.7 L573.9 95.5 L571.4 95.5 L569.1 95.3 L567.6 94.9 L566.9 93.6 L565.1 94.1 L563.3 93.2 L562.0 92.1 L561.1 90.3 L560.2 90.1 L559.3 90.7 L559.5 91.8 L560.0 92.8 L561.3 94.2 L562.0 95.7 L562.5 94.7 L562.4 96.1 L563.3 96.6 L564.6 96.6 L566.4 94.7 L566.8 94.4 L566.8 95.9 L568.7 97.2 L569.8 98.3 L568.6 100.4 L568.0 101.8 L566.7 102.8 L565.5 103.8 L562.9 105.2 L560.0 106.8 L556.7 108.0 L555.3 108.1 L554.9 106.3 L554.6 104.4 L553.6 102.8 L552.2 100.5 L551.4 98.8 L550.5 96.8 L549.1 94.7 L547.8 92.6 L547.8 91.1 L547.2 92.8 L546.5 92.1 L545.7 90.5 L545.4 89.3 L547.1 89.1 L547.7 87.5 L548.3 86.2 L548.6 84.3 L548.9 83.4 L547.4 83.3 L546.0 83.9 L545.2 83.5 L543.9 83.2 L542.5 83.7 L541.2 83.2 L541.0 82.4 L540.1 81.5 L540.5 80.1 L540.0 79.6 L540.7 79.0 L542.5 78.3 L544.7 78.2 L546.5 77.3 L547.8 77.3 L549.1 78.1 L550.9 78.4 L553.6 77.8 L553.7 76.7 L552.2 75.5 L550.5 74.3 L549.6 73.5 L550.9 71.9 L551.6 71.1 L550.0 71.3 L547.8 72.3 L548.3 73.4 L549.1 73.4 L548.0 74.0 L546.5 74.3 L545.6 73.1 L546.5 72.5 L544.7 71.8 L544.0 72.1 L543.1 73.4 L542.2 74.9 L541.5 76.1 L541.6 77.4 L542.5 78.2 L541.2 78.7 L540.1 79.0 L538.5 78.7 L537.6 79.3 L537.0 79.1 L537.0 80.4 L538.1 81.8 L537.2 82.1 L537.4 83.5 L536.6 83.5 L536.0 83.1 L535.6 81.8 L535.4 80.7 L534.1 79.0 L534.1 77.6 L533.2 76.7 L531.0 75.4 L530.1 74.3 L529.6 73.5 L528.8 73.6 L528.9 72.9 L527.7 73.4 L527.8 74.7 L528.8 75.5 L529.4 76.8 L531.0 77.4 L531.0 78.0 L533.1 79.3 L533.1 79.8 L531.9 79.1 L531.5 79.9 L532.0 80.7 L531.4 81.5 L530.7 81.9 L531.0 80.9 L530.7 79.6 L529.6 78.9 L529.2 78.7 L527.7 77.6 L526.5 76.8 L525.9 75.5 L524.7 74.5 L523.4 75.2 L522.1 76.0 L521.1 75.6 L519.6 75.9 L519.5 76.8 L519.6 77.4 L518.7 78.0 L517.5 78.8 L516.5 80.1 L517.0 81.0 L516.2 82.3 L515.0 83.2 L512.9 83.3 L512.0 83.9 L511.2 83.4 L510.2 82.7 L508.9 82.9 L509.0 81.3 L508.4 80.9 L508.9 79.3 L509.1 77.5 L508.6 76.1 L509.7 75.3 L511.9 75.4 L513.7 75.5 L515.2 75.6 L515.7 74.3 L515.8 72.5 L514.9 71.1 L512.8 70.2 L512.6 69.5 L514.1 69.1 L515.4 69.2 L515.2 68.0 L515.9 68.4 L517.0 68.2 L518.2 67.0 L519.0 66.2 L519.9 65.8 L520.5 64.9 L521.1 63.8 L522.1 63.2 L523.0 63.1 L524.3 62.8 L524.5 62.2 L524.4 61.1 L524.0 60.3 L524.1 58.4 L526.1 57.4 L525.9 59.1 L525.7 60.4 L525.5 61.4 L526.5 61.9 L527.4 62.2 L528.8 61.8 L529.5 62.6 L531.4 61.8 L533.2 61.5 L534.3 61.9 L535.4 60.8 L535.4 58.7 L536.1 57.5 L537.6 58.4 L538.3 57.3 L537.6 56.1 L537.6 55.3 L539.8 54.7 L541.6 54.9 L543.4 54.3 L541.6 53.4 L538.9 53.9 L536.7 54.1 L535.7 53.0 L535.8 50.5 L536.7 48.9 L538.9 46.6 L539.2 45.8 L538.1 45.4 L536.3 45.8 L535.7 47.4 L533.6 49.4 L532.3 51.2 L532.0 53.1 L533.5 54.1 L532.7 55.6 L531.6 57.0 L531.4 58.7 L530.8 59.6 L529.5 60.4 L528.3 60.6 L528.1 59.5 L527.3 57.4 L526.7 55.6 L526.2 54.4 L525.2 55.9 L523.9 56.8 L522.6 56.7 L521.7 55.6 L521.2 53.4 L521.2 51.2 L523.0 49.7 L524.3 48.9 L526.1 47.4 L527.9 45.0 L529.6 42.1 L531.0 40.6 L533.2 38.9 L535.4 38.0 L537.6 37.0Z" fill="#d9d9d9" stroke="#d9d9d9" stroke-width="0.4" stroke-linejoin="round"/>
<path d="M545.7 90.5 L545.4 89.1 L543.4 89.3 L542.5 89.7 L540.7 89.0 L538.9 88.8 L537.2 87.8 L535.8 87.4 L534.5 88.4 L534.5 89.7 L533.6 90.2 L532.3 89.6 L530.4 88.9 L530.1 88.0 L528.3 87.4 L527.0 87.1 L526.4 86.5 L525.7 85.9 L526.5 84.6 L526.2 83.5 L526.5 82.9 L525.7 82.6 L524.3 83.1 L522.1 83.1 L519.5 83.1 L517.7 83.6 L515.9 84.4 L515.0 85.0 L514.1 84.8 L512.1 84.3 L511.6 84.3 L510.8 86.2 L509.3 87.0 L508.1 88.9 L508.2 90.5 L507.8 91.3 L506.6 92.4 L505.3 92.9 L504.0 94.5 L502.6 97.0 L501.7 99.3 L501.7 99.8 L502.4 101.3 L502.2 104.3 L501.3 106.1 L502.0 107.3 L501.9 108.4 L503.1 109.2 L503.5 109.9 L504.7 111.2 L505.1 112.2 L505.7 113.2 L506.7 113.8 L508.4 115.2 L510.2 116.1 L512.4 115.5 L514.1 115.5 L515.0 115.8 L516.8 115.0 L517.9 114.5 L519.2 114.2 L520.8 114.3 L521.7 115.6 L522.1 116.2 L523.0 116.1 L524.3 116.0 L525.2 116.6 L525.5 117.5 L525.3 119.0 L525.0 119.9 L524.6 121.1 L525.2 122.6 L526.5 124.2 L527.4 125.2 L527.7 126.2 L528.6 128.9 L529.0 130.8 L527.9 133.5 L527.4 135.5 L527.3 137.2 L527.9 139.0 L529.6 142.5 L530.1 145.1 L530.3 147.1 L531.4 148.8 L532.1 150.8 L533.0 152.9 L533.1 154.8 L534.5 155.4 L536.7 154.6 L539.6 154.6 L541.2 153.8 L543.4 151.7 L544.3 150.2 L545.6 148.7 L545.9 146.1 L545.7 145.6 L548.1 144.5 L548.3 142.0 L547.8 140.0 L549.1 138.7 L551.4 137.0 L552.8 135.0 L552.7 132.5 L552.6 130.6 L551.8 128.6 L551.6 127.0 L551.2 126.0 L551.9 124.3 L552.4 122.8 L553.6 122.0 L554.5 120.7 L556.2 118.8 L557.6 118.0 L559.3 116.0 L560.7 114.1 L561.1 112.7 L562.0 110.3 L562.3 108.9 L560.2 109.4 L558.4 109.5 L556.2 110.2 L555.2 109.2 L555.1 108.3 L554.5 107.6 L552.2 105.8 L551.4 104.3 L550.9 102.8 L549.8 101.8 L549.8 99.8 L549.5 98.8 L548.4 96.9 L547.4 94.7 L546.7 93.2Z" fill="#d9d9d9" stroke="#d9d9d9" stroke-width="0.4" stroke-linejoin="round"/>
<path d="M560.5 132.0 L561.4 135.5 L560.7 137.5 L559.8 140.5 L558.9 144.0 L557.1 145.6 L555.8 145.1 L555.2 142.5 L556.0 140.0 L555.8 137.5 L556.7 136.0 L558.4 135.0 L559.3 133.5Z" fill="#d9d9d9" stroke="#d9d9d9" stroke-width="0.4" stroke-linejoin="round"/>
<path d="M617.8 142.0 L617.4 144.5 L617.4 146.1 L618.2 148.7 L618.7 150.8 L619.1 152.4 L618.7 154.9 L619.6 155.6 L621.3 155.6 L623.1 154.6 L626.2 154.5 L628.4 152.7 L631.1 152.0 L632.9 151.9 L635.1 152.6 L636.4 155.1 L637.3 155.6 L638.6 153.5 L639.1 155.1 L639.5 156.2 L640.4 156.7 L641.3 159.0 L643.9 159.9 L645.3 159.2 L646.4 160.2 L647.9 158.7 L649.7 158.2 L650.1 156.2 L650.9 154.3 L651.9 152.4 L652.4 150.3 L652.9 148.4 L652.5 145.6 L651.0 144.0 L650.4 142.5 L649.3 142.0 L648.4 140.0 L646.4 138.9 L645.9 136.5 L645.5 134.9 L644.2 134.3 L643.9 132.5 L643.1 130.8 L642.3 132.5 L642.3 135.0 L641.5 137.5 L640.4 137.5 L638.9 136.0 L636.9 134.8 L637.3 133.5 L638.0 132.2 L636.4 132.0 L634.2 131.4 L632.9 132.2 L631.8 133.5 L631.5 134.9 L630.2 134.8 L629.3 133.9 L628.0 134.5 L626.7 136.3 L625.2 137.0 L625.1 138.5 L624.0 139.6 L622.2 140.0 L620.5 140.6 L618.7 141.5Z" fill="#d9d9d9" stroke="#d9d9d9" stroke-width="0.4" stroke-linejoin="round"/>
<path d="M645.0 162.0 L646.6 162.5 L648.2 162.3 L648.2 163.8 L647.5 164.9 L646.2 165.4 L645.5 164.1Z" fill="#d9d9d9" stroke="#d9d9d9" stroke-width="0.4" stroke-linejoin="round"/>
<path d="M669.8 155.0 L671.4 156.7 L672.3 157.6 L672.7 158.5 L675.0 158.6 L674.3 160.3 L673.6 160.7 L673.4 161.8 L672.1 163.1 L671.7 162.7 L671.8 161.2 L670.8 160.4 L671.6 159.0 L671.4 157.9 L670.1 155.6Z" fill="#d9d9d9" stroke="#d9d9d9" stroke-width="0.4" stroke-linejoin="round"/>
<path d="M669.8 161.8 L671.1 162.7 L671.0 163.5 L669.9 165.3 L668.5 166.5 L668.1 168.0 L667.0 169.0 L665.9 168.9 L664.3 168.3 L664.8 167.1 L666.1 165.9 L667.9 164.7 L668.7 163.3 L669.4 162.1Z" fill="#d9d9d9" stroke="#d9d9d9" stroke-width="0.4" stroke-linejoin="round"/>
<path d="M632.9 121.2 L635.5 121.2 L636.4 123.6 L638.6 121.9 L641.7 122.9 L644.8 124.1 L646.0 125.5 L647.5 126.2 L647.8 127.2 L648.4 128.6 L650.1 130.6 L647.9 130.3 L646.6 128.9 L644.8 127.9 L643.5 129.3 L641.7 129.2 L640.0 128.1 L639.1 128.4 L639.8 127.0 L639.1 125.7 L636.9 124.7 L635.1 124.1 L634.5 124.3 L633.8 123.1 L635.1 122.6Z" fill="#d9d9d9" stroke="#d9d9d9" stroke-width="0.4" stroke-linejoin="round"/>
<path d="M648.4 125.8 L650.1 125.7 L651.6 124.5 L651.5 125.7 L650.1 126.5 L648.8 126.5Z" fill="#d9d9d9" stroke="#d9d9d9" stroke-width="0.4" stroke-linejoin="round"/>
<path d="M613.4 119.0 L614.5 118.8 L615.4 118.0 L616.9 117.3 L617.8 116.0 L619.1 115.1 L620.2 113.6 L621.1 114.3 L622.4 115.4 L621.3 116.2 L621.1 117.0 L621.3 118.3 L622.2 119.4 L620.9 119.9 L620.9 121.2 L620.0 121.8 L619.8 123.6 L619.6 124.2 L618.4 124.4 L616.9 123.6 L615.8 123.5 L614.4 123.1 L614.3 121.8 L613.4 120.7Z" fill="#d9d9d9" stroke="#d9d9d9" stroke-width="0.4" stroke-linejoin="round"/>
<path d="M601.2 115.0 L603.2 115.4 L604.2 116.8 L605.7 118.2 L606.7 118.7 L608.1 119.8 L608.8 121.4 L609.4 122.3 L610.7 123.3 L610.5 126.0 L609.4 126.0 L607.4 124.3 L606.3 122.8 L605.7 121.4 L604.5 120.1 L604.2 118.8 L602.7 117.5Z" fill="#d9d9d9" stroke="#d9d9d9" stroke-width="0.4" stroke-linejoin="round"/>
<path d="M610.0 127.0 L610.9 126.2 L612.9 126.9 L615.0 126.6 L616.7 127.1 L618.2 128.0 L618.1 128.8 L615.1 128.4 L612.5 128.0 L611.1 127.6Z" fill="#d9d9d9" stroke="#d9d9d9" stroke-width="0.4" stroke-linejoin="round"/>
<path d="M618.7 128.4 L620.5 128.3 L622.2 128.5 L624.0 128.5 L625.8 128.4 L625.6 128.9 L623.1 129.1 L621.3 129.0 L619.6 129.0Z" fill="#d9d9d9" stroke="#d9d9d9" stroke-width="0.4" stroke-linejoin="round"/>
<path d="M626.2 130.4 L627.5 129.1 L629.3 128.5 L629.3 128.9 L628.0 129.9 L626.7 130.5Z" fill="#d9d9d9" stroke="#d9d9d9" stroke-width="0.4" stroke-linejoin="round"/>
<path d="M622.7 120.6 L623.1 119.1 L624.0 119.1 L625.8 119.5 L627.5 118.9 L627.1 120.0 L624.4 119.9 L623.3 121.3 L624.4 121.3 L626.0 121.3 L624.9 122.1 L624.4 122.8 L625.3 123.8 L625.8 124.8 L625.3 125.5 L624.4 124.8 L624.0 123.3 L623.4 123.2 L623.6 125.7 L622.7 125.7 L622.7 123.8 L622.1 123.0 L622.5 121.6Z" fill="#d9d9d9" stroke="#d9d9d9" stroke-width="0.4" stroke-linejoin="round"/>
<path d="M629.8 118.3 L630.7 119.0 L630.5 120.4 L630.0 121.2 L629.8 119.9Z" fill="#d9d9d9" stroke="#d9d9d9" stroke-width="0.4" stroke-linejoin="round"/>
<path d="M623.6 102.3 L625.1 102.3 L625.1 104.3 L624.4 105.8 L624.9 106.8 L626.7 107.3 L626.7 108.2 L625.3 107.3 L624.0 107.1 L623.6 106.3 L623.1 105.3 L623.4 104.3Z" fill="#d9d9d9" stroke="#d9d9d9" stroke-width="0.4" stroke-linejoin="round"/>
<path d="M624.9 113.6 L626.2 112.2 L628.0 111.0 L628.9 112.7 L628.7 114.1 L628.0 114.6 L626.7 114.1 L626.2 113.1Z" fill="#d9d9d9" stroke="#d9d9d9" stroke-width="0.4" stroke-linejoin="round"/>
<path d="M624.9 108.9 L626.0 109.2 L626.7 109.7 L628.0 108.3 L628.2 109.7 L627.5 110.7 L626.7 110.7 L625.8 111.4 L625.3 110.2Z" fill="#d9d9d9" stroke="#d9d9d9" stroke-width="0.4" stroke-linejoin="round"/>
<path d="M620.6 112.3 L621.8 111.2 L622.8 109.4 L622.4 110.4 L621.3 111.9Z" fill="#d9d9d9" stroke="#d9d9d9" stroke-width="0.4" stroke-linejoin="round"/>
<path d="M642.2 78.0 L642.5 80.1 L641.7 81.5 L641.7 82.9 L641.5 84.4 L640.7 85.2 L639.8 85.5 L638.2 85.6 L638.0 86.3 L637.1 86.8 L636.4 85.9 L635.1 85.8 L633.8 86.2 L632.9 86.2 L633.0 85.5 L634.2 84.6 L635.5 84.5 L637.0 84.5 L637.9 83.2 L638.4 82.4 L639.5 82.5 L640.4 81.3 L640.8 79.6 L641.1 78.2Z" fill="#d9d9d9" stroke="#d9d9d9" stroke-width="0.4" stroke-linejoin="round"/>
<path d="M641.0 77.8 L641.7 77.5 L643.7 77.3 L645.7 75.8 L645.3 74.7 L643.5 74.6 L642.3 73.3 L642.3 75.5 L641.1 75.9 L640.7 76.9Z" fill="#d9d9d9" stroke="#d9d9d9" stroke-width="0.4" stroke-linejoin="round"/>
<path d="M632.0 86.8 L632.9 86.5 L633.6 87.3 L633.2 88.9 L632.5 89.4 L632.2 88.4 L631.7 87.3Z" fill="#d9d9d9" stroke="#d9d9d9" stroke-width="0.4" stroke-linejoin="round"/>
<path d="M634.2 86.3 L635.8 85.9 L636.1 86.5 L635.1 87.0 L634.5 87.5Z" fill="#d9d9d9" stroke="#d9d9d9" stroke-width="0.4" stroke-linejoin="round"/>
<path d="M642.6 62.0 L643.3 63.1 L643.8 65.7 L644.4 68.5 L643.2 70.1 L643.8 71.9 L642.6 72.5 L642.6 70.1 L642.6 67.6 L642.3 65.1Z" fill="#d9d9d9" stroke="#d9d9d9" stroke-width="0.4" stroke-linejoin="round"/>
<path d="M624.4 95.5 L624.8 96.3 L624.3 97.8 L623.8 98.8 L623.3 97.8 L623.6 96.5Z" fill="#d9d9d9" stroke="#d9d9d9" stroke-width="0.4" stroke-linejoin="round"/>
<path d="M613.1 101.6 L613.8 100.8 L615.0 100.8 L615.1 101.3 L614.3 102.4 L613.4 102.4Z" fill="#d9d9d9" stroke="#d9d9d9" stroke-width="0.4" stroke-linejoin="round"/>
<path d="M587.5 111.0 L588.4 111.7 L589.3 113.1 L589.0 114.3 L588.1 114.7 L587.5 113.6 L587.5 112.2Z" fill="#d9d9d9" stroke="#d9d9d9" stroke-width="0.4" stroke-linejoin="round"/>
<path d="M511.7 67.6 L513.7 67.2 L515.9 66.7 L518.0 66.1 L518.2 64.1 L517.1 63.8 L516.8 62.8 L515.7 61.6 L515.3 60.2 L514.1 59.7 L515.0 57.7 L513.7 57.4 L514.1 56.1 L512.4 56.1 L511.7 57.7 L511.9 59.7 L512.5 60.4 L512.5 61.5 L513.9 61.4 L514.1 62.7 L514.0 63.4 L512.8 63.4 L513.0 64.4 L512.2 65.3 L513.7 65.7 L514.1 66.1 L512.8 66.3Z" fill="#d9d9d9" stroke="#d9d9d9" stroke-width="0.4" stroke-linejoin="round"/>
<path d="M507.9 65.3 L509.7 65.4 L511.2 64.8 L511.5 63.4 L511.9 61.8 L511.3 60.8 L509.7 60.8 L507.9 62.2 L508.8 63.5 L507.9 64.7Z" fill="#d9d9d9" stroke="#d9d9d9" stroke-width="0.4" stroke-linejoin="round"/>
<path d="M526.5 20.1 L529.2 24.3 L531.9 26.1 L533.6 23.2 L536.3 22.6 L535.4 21.1 L540.7 19.0 L534.5 17.8 L530.1 19.0Z" fill="#d9d9d9" stroke="#d9d9d9" stroke-width="0.4" stroke-linejoin="round"/>
<path d="M557.6 17.8 L562.9 19.0 L570.0 18.3 L573.5 16.7 L568.2 15.1 L561.1 16.3Z" fill="#d9d9d9" stroke="#d9d9d9" stroke-width="0.4" stroke-linejoin="round"/>
<path d="M562.4 35.2 L564.2 37.2 L567.7 37.4 L566.0 34.9 L566.4 32.5 L568.6 30.8 L570.8 28.9 L575.3 26.7 L577.9 25.7 L575.3 25.3 L570.0 26.9 L566.4 28.9 L565.1 32.1 L562.9 34.0Z" fill="#d9d9d9" stroke="#d9d9d9" stroke-width="0.4" stroke-linejoin="round"/>
<path d="M601.0 21.1 L604.5 23.2 L608.1 22.6 L609.8 20.7 L605.4 17.8 L602.7 16.7 L599.2 19.0Z" fill="#d9d9d9" stroke="#d9d9d9" stroke-width="0.4" stroke-linejoin="round"/>
<path d="M638.2 28.3 L641.7 31.6 L644.4 29.3 L649.7 28.9 L647.0 27.3 L642.6 26.9Z" fill="#d9d9d9" stroke="#d9d9d9" stroke-width="0.4" stroke-linejoin="round"/>
<path d="M675.0 36.3 L678.1 36.8 L678.5 35.8 L675.8 35.6Z" fill="#d9d9d9" stroke="#d9d9d9" stroke-width="0.4" stroke-linejoin="round"/>
<path d="M527.8 81.8 L530.6 81.5 L530.3 83.3 L527.9 82.3Z" fill="#d9d9d9" stroke="#d9d9d9" stroke-width="0.4" stroke-linejoin="round"/>
<path d="M524.1 78.4 L525.4 78.4 L525.3 80.5 L524.2 80.7Z" fill="#d9d9d9" stroke="#d9d9d9" stroke-width="0.4" stroke-linejoin="round"/>
<path d="M524.4 76.2 L525.2 76.1 L525.1 78.0 L524.5 77.5Z" fill="#d9d9d9" stroke="#d9d9d9" stroke-width="0.4" stroke-linejoin="round"/>
<path d="M537.6 84.6 L540.1 84.8 L540.0 85.2 L537.7 84.9Z" fill="#d9d9d9" stroke="#d9d9d9" stroke-width="0.4" stroke-linejoin="round"/>
<path d="M545.4 85.2 L547.4 84.4 L546.9 85.3 L546.0 85.6Z" fill="#d9d9d9" stroke="#d9d9d9" stroke-width="0.4" stroke-linejoin="round"/>
<path d="M564.0 108.2 L565.1 108.2 L564.9 108.5 L564.1 108.5Z" fill="#d9d9d9" stroke="#d9d9d9" stroke-width="0.4" stroke-linejoin="round"/>
<path d="M378.6 100.6 L379.5 101.0 L379.0 101.8 L378.6 101.3Z" fill="#d9d9d9" stroke="#d9d9d9" stroke-width="0.4" stroke-linejoin="round"/>
<path d="M662.1 140.2 L664.3 141.5 L664.8 142.4 L663.0 141.5Z" fill="#d9d9d9" stroke="#d9d9d9" stroke-width="0.4" stroke-linejoin="round"/>
<path d="M673.9 137.5 L675.0 137.6 L674.9 138.2 L673.9 138.1Z" fill="#d9d9d9" stroke="#d9d9d9" stroke-width="0.4" stroke-linejoin="round"/>
<path d="M655.0 127.0 L657.2 127.7 L659.0 129.1 L659.9 130.1 L659.0 129.9 L656.8 128.3Z" fill="#d9d9d9" stroke="#d9d9d9" stroke-width="0.4" stroke-linejoin="round"/>
<path d="M664.4 135.0 L665.0 135.5 L665.5 136.5 L664.9 136.3Z" fill="#d9d9d9" stroke="#d9d9d9" stroke-width="0.4" stroke-linejoin="round"/>
<path d="M379.9 58.0 L381.7 56.7 L382.1 57.7 L380.8 58.7Z" fill="#d9d9d9" stroke="#d9d9d9" stroke-width="0.4" stroke-linejoin="round"/>
<path d="M368.0 63.1 L369.3 62.4 L369.0 63.2Z" fill="#d9d9d9" stroke="#d9d9d9" stroke-width="0.4" stroke-linejoin="round"/>
<path d="M364.7 48.6 L367.1 49.4 L367.2 49.1 L365.7 48.6Z" fill="#d9d9d9" stroke="#d9d9d9" stroke-width="0.4" stroke-linejoin="round"/>
<path d="M462.0 110.0 L462.8 109.9 L462.8 110.6 L462.0 110.6Z" fill="#d9d9d9" stroke="#d9d9d9" stroke-width="0.4" stroke-linejoin="round"/>
<path d="M483.1 178.4 L484.9 178.8 L484.7 179.4 L483.3 178.9Z" fill="#d9d9d9" stroke="#d9d9d9" stroke-width="0.4" stroke-linejoin="round"/>
<path d="M577.8 171.9 L579.3 172.1 L579.0 172.8 L577.9 172.7Z" fill="#d9d9d9" stroke="#d9d9d9" stroke-width="0.4" stroke-linejoin="round"/>
<path d="M447.5 94.0 L448.6 94.2 L448.4 94.8 L447.7 96.3 L447.4 95.5Z" fill="#d9d9d9" stroke="#d9d9d9" stroke-width="0.4" stroke-linejoin="round"/>
<path d="M560.2 71.9 L558.4 73.1 L558.9 75.5 L559.8 77.3 L560.7 79.0 L560.2 80.7 L560.2 82.2 L562.0 83.2 L564.5 82.9 L564.6 80.7 L563.8 79.0 L563.6 77.8 L564.6 77.3 L563.3 76.3 L562.4 74.9 L562.0 73.7 L563.8 71.6 L562.0 71.3Z" fill="#fff"/>
<path d="M515.0 85.0 L515.3 86.8 L515.7 88.2 L513.7 89.5 L512.4 90.5 L509.1 91.9 L509.1 93.4M509.1 92.9 L505.3 92.9M509.1 94.7 L506.2 94.7 L506.2 97.4 L505.3 97.8 L505.3 99.5 L501.7 99.5M509.1 93.4 L512.5 95.7 L517.9 99.7 L519.6 101.0 L520.5 101.7 L522.1 101.2 L527.4 97.3 L525.7 96.3 L525.2 94.2 L525.7 92.6 L525.2 90.3 L523.9 87.9 L524.2 85.7 L524.3 83.1M525.2 90.3 L527.0 87.9 L527.0 87.1M538.9 98.8 L538.9 100.8 L538.1 100.8 L538.1 101.3 L531.0 97.4 L530.1 97.8 L529.4 98.2 L527.4 97.3M509.1 93.4 L511.0 95.7 L511.8 104.3 L511.9 105.3 L507.1 105.5 L506.0 106.0 L504.4 104.3 L502.2 104.6M506.0 106.0 L506.7 108.3 L504.7 108.2 L502.0 108.4M501.9 107.2 L504.4 107.2 L504.4 107.6 L501.9 107.7M520.5 101.7 L520.5 104.8 L519.9 105.4 L517.7 105.8 L517.0 105.8 L515.0 106.6 L513.3 107.4 L512.1 108.9 L511.9 110.3 L509.7 110.5 L508.8 108.5 L506.7 108.3M530.1 97.8 L530.5 99.8 L530.5 104.0 L528.8 106.3 L528.8 107.1 L525.7 107.6 L523.0 107.8 L520.3 107.1 L520.0 109.0 L518.9 108.6 L517.7 107.5 L517.0 105.8M528.8 107.1 L529.6 108.3 L528.3 110.7 L527.4 112.7 L526.5 113.9 L524.8 115.6 L524.3 116.0M538.1 101.3 L538.1 105.1 L536.7 106.8 L536.3 108.1 L537.1 109.7 L533.6 111.7 L531.0 112.9 L530.5 113.1 L530.1 110.7 L529.6 108.3M537.1 109.7 L538.1 110.7 L540.7 111.1 L542.9 110.7 L545.2 108.8 L546.2 108.6 L546.9 111.2M550.9 102.8 L549.6 103.8 L549.1 106.5 L548.8 108.1 L547.8 109.7 L547.0 111.2 L546.9 112.3 L548.6 115.3 L547.4 116.0M549.1 106.5 L550.5 106.1 L552.2 106.3 L554.4 108.3M554.8 109.7 L554.9 111.2 L556.7 112.1 L558.4 112.7 L559.3 112.7 L556.7 115.6 L554.9 115.9 L554.0 116.4 L553.1 116.6 L551.8 117.0 L550.5 116.9 L548.7 116.1 L547.4 116.0M553.1 116.6 L553.1 120.4 L553.6 122.0M551.5 124.9 L550.1 123.4 L546.9 121.4 L547.4 119.4 L547.8 117.5 L547.4 116.0 L544.1 117.0 L544.3 118.3 L543.0 120.4 L543.0 121.8 L542.5 123.1 L542.7 124.8 L542.9 126.2 L544.0 128.3 L545.9 129.5 L546.9 129.6 L547.4 131.6 L550.0 131.8 L552.6 130.6M546.9 121.4 L543.8 121.4 L543.0 121.8M527.7 126.2 L531.5 126.1 L532.4 128.2 L534.0 128.1 L536.1 127.5 L536.1 129.6 L536.5 131.3 L538.1 131.0 L539.2 131.3 L540.6 132.0 L542.5 133.4 L543.2 132.2 L542.0 131.9 L542.1 129.3 L544.0 128.3M527.4 125.2 L529.6 125.0 L531.0 123.8 L532.5 120.9 L533.3 117.0 L536.6 116.4 L538.9 115.6 L541.1 115.5 L544.1 117.0M530.5 113.1 L529.6 115.6 L531.1 118.3 L533.3 117.0M525.5 118.2 L528.6 118.3 L531.1 118.3M528.6 118.3 L529.6 120.9 L529.6 122.3 L527.2 122.8 L526.6 124.2M525.3 119.4 L526.8 119.4 L526.8 118.3M537.1 109.7 L537.6 112.0 L541.1 115.5M527.3 137.2 L529.2 137.4 L533.2 137.4 L537.5 137.6 L539.2 137.8M538.1 131.0 L538.1 133.0 L536.3 133.0 L536.3 136.2 L537.5 137.6M539.2 137.8 L535.4 138.3 L535.4 142.0 L534.5 142.0 L534.5 144.9 L534.5 148.6 L532.2 148.9 L531.4 148.8M534.5 144.9 L535.0 147.0 L536.0 146.9 L537.2 145.4 L539.4 145.8 L540.7 143.6 L542.8 142.2 L541.3 140.5 L539.8 139.0 L539.2 137.8 L540.7 137.9 L542.4 135.9 L543.7 135.6 L545.9 136.7 L546.0 139.5 L545.6 141.3 L544.5 142.4 L542.8 142.2M544.5 142.4 L545.2 144.5 L545.2 146.9 L545.9 146.9M543.7 135.6 L543.6 134.8 L546.2 134.0 L545.9 129.5M546.2 134.0 L547.4 134.5 L548.6 136.0 L548.1 137.1 L547.2 136.0 L547.4 131.6M540.7 149.9 L542.1 148.9 L542.8 149.9 L541.6 150.9 L540.7 149.9M510.2 116.1 L509.3 113.1 L509.7 110.5M514.1 115.5 L514.4 112.7 L514.3 111.2 L514.3 109.7 L516.8 109.6 L517.2 112.7 L517.9 114.5M519.2 114.2 L519.2 111.7 L520.0 109.0M518.2 114.4 L518.2 111.7 L517.6 109.7M511.9 110.3 L514.3 110.9M505.1 111.7 L507.1 110.7 L507.5 112.3 L506.7 113.8M507.5 112.3 L509.3 113.1M503.5 109.7 L504.7 109.0 L504.7 108.2M526.7 55.6 L527.9 53.4 L527.6 49.7 L529.2 47.4 L530.5 44.7 L532.7 40.9 L535.0 40.1 L539.4 40.1 L541.6 38.4 L542.5 39.3 L544.1 38.7M538.1 45.4 L537.8 42.6 L535.0 40.1M541.6 53.4 L543.4 51.2 L544.7 49.7 L543.4 47.4 L542.9 43.4 L542.1 40.9 L544.1 38.7M519.0 66.2 L520.5 67.6 L522.1 68.2M519.9 65.8 L521.2 65.8 L522.1 66.3M523.5 70.6 L522.1 72.3 L523.0 72.7M525.3 70.7 L526.1 71.4M530.1 66.3 L531.9 67.2 L533.5 68.2 L536.7 68.7 L538.1 66.7 L537.7 64.4 L538.0 62.4 L537.0 61.9 L534.3 61.9M529.0 69.1 L530.1 68.9 L531.9 69.4 L533.5 68.2M531.9 69.4 L531.4 71.3 L531.0 71.6 L528.9 71.9M531.9 69.4 L533.5 70.3 L536.5 69.6 L536.7 68.7M536.5 69.6 L537.1 70.1 L535.4 72.3 L534.8 72.4 L533.5 72.7 L531.4 71.9 L531.0 71.6M537.1 70.1 L540.4 69.7 L541.8 73.1 L543.1 73.4M540.4 69.7 L541.6 69.9 L543.4 72.1M536.9 74.7 L538.9 75.3 L540.7 74.8 L542.1 75.3M534.8 72.4 L535.8 74.0 L536.9 74.7 L536.6 76.3 L537.1 78.1 L540.1 77.6M528.8 73.1 L530.4 73.1 L531.4 71.9M533.5 72.7 L533.6 73.9 L534.2 74.9 L533.8 75.5 L533.2 76.7M531.0 75.4 L532.4 76.1 L533.2 76.7M530.8 73.5 L531.9 73.5 L533.6 73.9M534.0 77.4 L535.1 77.4 L535.2 78.5 L534.5 79.9M535.1 77.4 L536.6 76.9M535.2 78.5 L537.1 78.1M541.6 54.9 L541.2 57.3 L541.8 59.5 L540.4 60.2 L539.7 61.2 L538.0 62.4M541.2 57.3 L538.9 57.1 L538.3 57.3M541.8 59.5 L539.8 59.2 L535.4 59.6M541.8 59.5 L544.2 60.3 L545.0 62.7 L544.5 64.8 L546.9 64.7 L548.3 67.0 L550.5 67.7 L552.2 68.1 L552.1 70.1 L550.6 71.2M537.7 65.6 L540.7 65.6 L543.8 65.8 L544.5 64.8M552.2 75.5 L555.3 76.3 L558.0 77.4 L559.9 77.5M555.3 78.3 L558.0 77.4M555.5 79.5 L556.7 78.2 L558.0 77.4M556.7 80.3 L558.0 80.1 L557.7 80.8M560.2 71.9 L558.4 70.1 L558.3 68.2 L559.8 67.0 L562.0 65.6 L565.5 66.3 L569.1 66.3 L571.3 63.4 L570.8 62.4 L574.4 61.8 L577.9 60.6 L579.7 62.2 L581.9 62.4 L584.6 62.0 L585.0 63.4 L587.7 66.3 L590.3 66.3 L592.6 68.1 L594.1 68.6M587.9 77.0 L583.2 76.3 L579.7 76.7 L577.9 78.1 L575.3 78.4 L571.7 75.5 L568.6 73.1 L566.4 73.7 L566.4 78.1 L564.6 77.3 L563.3 77.6M566.4 78.1 L568.6 76.5 L570.0 78.1 L571.7 79.6 L573.9 80.9 L575.7 82.5M571.0 84.5 L572.6 84.3 L573.9 83.5 L575.7 82.5 L577.0 82.9 L578.8 81.8 L580.1 83.3 L582.8 82.7M582.1 80.1 L579.3 79.6 L577.9 78.1M577.0 82.9 L576.9 80.5 L579.3 79.6M594.6 68.6 L598.3 66.7 L603.6 67.2 L604.1 65.1 L607.2 66.0 L610.7 67.2 L614.3 68.6 L617.4 67.6 L620.2 67.9M627.0 79.6 L629.2 77.5 L630.4 77.3 L632.6 76.9M598.6 100.0 L598.8 98.8M605.4 100.4 L606.5 99.6M607.3 98.3 L608.5 100.3 L609.4 101.3 L610.3 102.6 L611.6 104.5 L612.0 106.0 L610.0 106.5M612.0 106.0 L612.0 108.3 L610.7 109.2 L609.4 110.3M613.9 118.5 L615.1 119.2 L616.9 119.0 L618.4 118.2 L619.3 116.3 L621.0 116.3M641.7 122.9 L641.7 129.2M594.9 92.7 L593.0 92.6 L591.2 91.6 L588.6 90.3M595.5 93.5 L596.4 93.9 L598.3 93.8 L598.3 92.8M595.7 99.0 L595.5 96.5 L594.9 94.9 L596.4 94.5 L596.4 95.4 L598.5 95.6 L598.6 96.3 L597.6 96.8 L597.9 97.8 L598.6 97.1 L598.8 98.8M554.3 82.7 L553.3 85.7 L551.2 86.9 L549.4 88.1 L548.3 87.6M548.3 87.6 L548.3 88.9 L547.8 91.1M547.1 89.1 L547.7 91.1M548.3 86.2 L549.1 86.2 L548.9 87.4 L548.3 87.6M551.2 86.9 L551.4 88.4 L549.6 88.9 L550.5 90.0 L550.0 90.5 L548.7 91.4 L547.8 91.1M551.4 88.4 L554.0 89.3 L556.4 91.4 L558.0 91.5 L559.3 90.7M558.0 91.5 L559.1 92.0 L559.7 92.1M554.6 104.4 L555.1 103.4 L558.4 103.8 L560.2 102.2 L562.9 101.8 L565.5 100.8 L566.2 98.8 L565.7 98.1 L563.4 97.9 L562.5 96.6M562.9 101.8 L563.8 104.1M565.7 98.1 L566.4 96.6 L566.8 95.8M570.8 90.7 L570.8 90.7M435.0 106.2 L435.7 104.8 L436.6 104.6 L436.2 103.6 L437.8 103.0 L438.6 102.3M437.8 103.0 L437.8 104.9 L438.6 105.1M437.8 106.0 L437.7 106.4 L437.1 107.0M437.8 106.0 L438.4 106.8 L439.0 107.4M439.3 107.8 L441.5 107.0 L443.0 105.8M440.9 109.6 L442.6 109.8M443.4 112.6 L443.6 111.1M453.0 109.2 L452.1 111.5 L452.7 113.2 L454.8 113.6 L457.0 114.4 L456.7 116.5 L457.4 118.5 L457.6 119.2M447.0 119.0 L448.6 120.1 L450.3 120.5 L451.7 121.8 L453.0 122.7 L454.8 123.0 L454.8 124.5M445.7 123.7 L446.4 125.2 L447.2 124.8 L447.7 123.3 L449.5 122.8 L450.0 121.4 L450.3 120.5M463.6 112.2 L462.8 113.3 L462.5 114.6 L463.0 115.4M466.1 114.6 L465.9 116.5 L466.7 118.5M469.0 114.8 L468.5 118.2M455.2 137.5 L455.7 135.5 L455.4 133.0 L455.9 132.5 L455.7 131.1M457.4 143.0 L459.2 142.0 L461.2 142.2 L461.9 140.5 L464.5 139.3 L465.4 140.0M461.2 142.2 L463.6 144.0 L465.8 145.5 L465.0 147.3 L467.2 147.4 L468.4 145.7M465.8 150.5 L465.2 152.9 L465.1 154.6M451.2 158.6 L451.2 158.6" fill="none" stroke="#c2c2c2" stroke-width="0.35" stroke-linejoin="round"/>
<path d="M406.3 69.6 L406.9 72.3 L406.8 76.1 L406.7 79.0 L407.1 80.1 L408.3 82.1 L408.7 83.2 L410.0 85.7 L411.8 86.2 L413.0 87.9 L415.1 87.9 L418.5 89.1 L420.9 89.1 L420.9 88.6 L422.4 88.6 L424.2 91.1 L425.5 91.6 L426.2 90.6 L427.3 91.1 L428.6 93.2 L430.6 94.7 L430.9 92.6 L432.6 91.4 L434.0 90.8 L436.2 91.3 L437.7 91.4 L438.8 90.2 L440.6 90.2 L441.9 90.5 L442.8 91.1 L443.4 92.6 L444.1 94.2 L444.6 95.5 L445.5 95.5 L445.8 94.7 L445.5 92.1 L444.7 90.0 L445.0 88.4 L446.8 87.1 L448.6 85.7 L449.9 84.9 L449.5 82.9 L449.9 81.3 L451.2 80.1 L451.2 78.9 L453.0 78.2 L454.8 77.5 L454.3 76.1 L455.7 74.9 L457.4 73.7 L456.7 71.2 L455.5 70.8 L454.3 73.1 L453.5 73.7 L450.3 73.7 L449.0 74.9 L446.8 75.8 L446.8 76.3 L443.7 77.3 L443.3 76.1 L443.7 73.4 L442.4 71.9 L438.8 69.9 L437.5 70.1 L435.3 69.5 L432.6 68.9 L407.8 68.9 L407.8 69.7Z" fill="#a583bb" stroke="#a583bb" stroke-width="0.3" stroke-linejoin="round"/>
<path d="M367.9 45.7 L369.0 41.2 L369.5 40.3 L373.4 37.9 L378.1 35.9 L382.1 37.0 L385.7 37.7 L391.9 39.1 L391.9 53.7 L393.6 54.1 L395.0 55.1 L396.7 55.1 L398.5 57.5 L400.7 59.5 L401.4 61.1 L400.3 60.4 L398.5 58.4 L396.7 56.3 L395.0 55.9 L392.8 54.4 L389.2 54.1 L387.0 52.7 L385.2 53.9 L382.6 55.1 L383.9 52.4 L381.7 54.1 L380.4 56.3 L377.7 58.4 L375.0 60.3 L372.4 61.4 L370.8 61.6 L373.3 60.0 L375.9 57.7 L377.3 56.0 L375.0 55.9 L373.3 54.9 L371.1 53.4 L370.2 52.0 L370.6 49.7 L374.2 47.4 L372.4 47.4 L369.3 47.2Z" fill="#a583bb" stroke="#a583bb" stroke-width="0.3" stroke-linejoin="round"/>
<path d="M471.1 116.2 L472.1 118.5 L472.5 120.4 L473.8 120.9 L475.2 121.1 L477.4 122.6 L479.6 123.1 L481.4 123.1 L482.7 124.0 L484.0 125.0 L485.5 125.4 L485.8 126.7 L486.0 128.1 L484.9 130.6 L483.1 132.7 L482.7 133.0 L482.2 135.0 L482.1 137.5 L481.4 140.0 L480.5 142.0 L479.6 143.0 L478.3 143.0 L476.9 143.8 L475.2 144.9 L473.8 146.1 L473.7 148.2 L472.5 149.7 L470.7 152.4 L469.5 154.2 L469.4 152.9 L467.6 151.1 L465.8 150.5 L467.2 148.7 L468.5 147.6 L469.1 147.1 L468.4 145.7 L468.7 144.0 L467.6 144.0 L467.4 142.3 L465.6 142.1 L465.4 140.0 L465.9 138.0 L465.1 137.3 L463.6 136.3 L463.5 133.7 L462.3 133.5 L460.5 132.5 L459.2 132.0 L458.9 130.1 L457.9 130.0 L456.1 131.1 L454.3 131.1 L454.2 129.6 L452.8 130.1 L451.9 129.5 L451.2 127.7 L452.1 126.2 L452.2 125.2 L454.8 124.6 L455.3 121.7 L454.8 119.9 L455.0 118.8 L457.4 119.2 L457.6 118.5 L458.8 119.4 L460.1 119.0 L459.9 116.5 L461.2 116.5 L463.0 115.4 L463.6 115.6 L463.8 116.1 L464.1 118.5 L465.4 119.0 L466.7 118.5 L468.5 118.2 L470.0 118.2Z" fill="#4f7aa8" stroke="#4f7aa8" stroke-width="0.3" stroke-linejoin="round"/>
<path d="M454.5 138.4 L454.6 141.0 L454.3 144.0 L453.9 147.1 L453.5 150.3 L453.5 153.5 L452.6 155.6 L451.7 158.1 L451.4 161.2 L452.1 163.5 L451.2 165.9 L449.9 168.9 L450.8 168.9 L449.9 170.7 L450.1 173.2 L450.8 175.7 L452.1 177.7 L453.9 179.0 L455.7 180.1 L457.4 180.4 L456.0 179.6 L456.1 177.0 L456.2 176.3 L454.8 175.7 L452.7 175.1 L452.1 173.8 L452.6 171.9 L453.5 167.7 L453.2 164.7 L453.5 161.2 L453.9 158.4 L454.5 155.6 L454.8 153.5 L455.0 150.3 L456.1 147.1 L456.2 144.5 L457.4 143.0 L456.4 141.5 L456.1 139.5 L455.2 137.5Z" fill="#4f7aa8" stroke="#4f7aa8" stroke-width="0.3" stroke-linejoin="round"/>
<path d="M508.9 82.9 L509.0 81.3 L508.4 80.9 L508.9 79.3 L509.1 77.5 L509.5 77.2 L511.0 77.4 L511.3 77.7 L510.7 78.4 L510.7 79.7 L510.2 80.0 L510.6 80.7 L510.3 81.6 L510.6 81.8 L510.2 82.7Z" fill="#7a86c4" stroke="#7a86c4" stroke-width="0.3" stroke-linejoin="round"/>
<path d="M510.2 82.7 L511.2 83.4 L512.0 83.9 L512.9 83.3 L515.0 83.2 L516.2 82.3 L517.0 81.0 L516.5 80.1 L517.5 78.8 L518.7 78.0 L519.6 77.4 L519.5 76.8 L518.1 76.7 L517.4 76.3 L516.4 76.3 L515.2 75.6 L513.7 75.5 L511.9 75.4 L509.7 75.3 L508.6 76.1 L509.1 77.5 L509.5 77.2 L511.0 77.4 L511.3 77.7 L510.7 78.4 L510.7 79.7 L510.2 80.0 L510.6 80.7 L510.3 81.6 L510.6 81.8Z" fill="#6e80bb" stroke="#6e80bb" stroke-width="0.3" stroke-linejoin="round"/>
<path d="M523.0 63.1 L524.3 62.8 L524.5 62.2 L524.4 61.1 L525.5 61.4 L526.5 61.9 L527.4 62.2 L528.8 61.8 L529.5 62.6 L529.4 64.0 L529.8 65.1 L530.1 66.3 L529.5 66.3 L527.6 67.2 L527.9 67.9 L529.0 69.1 L528.3 69.7 L528.3 70.7 L527.4 70.6 L526.1 70.7 L525.3 70.7 L523.5 70.6 L523.5 69.5 L524.1 68.9 L522.5 68.2 L522.2 67.5 L522.1 66.3 L522.8 65.2 L523.0 64.5 L523.2 63.5Z" fill="#d596cc" stroke="#d596cc" stroke-width="0.3" stroke-linejoin="round"/>
<path d="M523.4 75.2 L524.7 74.5 L525.9 75.5 L526.5 76.8 L527.7 77.6 L529.2 78.7 L529.6 78.9 L530.7 79.6 L531.0 80.9 L530.7 81.9 L531.4 81.5 L532.0 80.7 L531.5 79.9 L531.9 79.1 L533.1 79.8 L533.1 79.3 L531.0 78.0 L531.0 77.4 L529.4 76.8 L528.8 75.5 L527.8 74.7 L527.7 73.4 L528.9 72.9 L528.9 71.9 L527.7 71.3 L526.1 71.4 L525.2 72.2 L524.3 72.2 L523.0 72.7 L522.8 73.6 L523.5 74.7Z" fill="#5c80b8" stroke="#5c80b8" stroke-width="0.3" stroke-linejoin="round"/>
<path d="M527.8 81.8 L530.6 81.5 L530.3 83.3 L527.9 82.3Z" fill="#5c80b8" stroke="#5c80b8" stroke-width="0.3" stroke-linejoin="round"/>
<path d="M524.1 78.4 L525.4 78.4 L525.3 80.5 L524.2 80.7Z" fill="#5c80b8" stroke="#5c80b8" stroke-width="0.3" stroke-linejoin="round"/>
<path d="M540.0 79.6 L540.5 80.1 L540.1 81.5 L541.0 82.4 L541.2 83.2 L542.5 83.7 L543.9 83.2 L545.2 83.5 L546.0 83.9 L547.4 83.3 L548.9 83.4 L549.3 83.8 L550.5 83.2 L552.2 82.8 L554.3 82.7 L556.0 82.9 L556.1 81.4 L555.8 80.3 L556.5 79.9 L555.3 78.3 L554.5 77.8 L553.6 77.8 L550.9 78.4 L549.1 78.1 L547.8 77.3 L546.5 77.3 L544.7 78.2 L542.5 78.2 L541.6 77.4 L540.3 77.4 L540.0 78.8Z" fill="#5c84b6" stroke="#5c84b6" stroke-width="0.3" stroke-linejoin="round"/>
<path d="M538.9 88.8 L540.7 89.0 L542.5 89.7 L543.4 89.3 L545.4 89.1 L547.1 89.1 L547.7 91.1 L547.2 92.8 L546.5 92.1 L545.7 90.5 L546.7 93.2 L547.4 94.7 L548.4 96.9 L549.5 98.8 L538.9 98.8Z" fill="#8a8cc8" stroke="#8a8cc8" stroke-width="0.3" stroke-linejoin="round"/>
<path d="M556.5 79.9 L555.8 80.3 L556.1 81.4 L556.0 82.9 L557.1 84.1 L557.6 85.2 L557.1 86.2 L557.6 87.3 L558.9 88.1 L559.2 89.5 L559.3 90.5 L560.2 90.1 L561.1 90.3 L562.0 92.1 L563.3 93.2 L565.1 94.1 L566.9 93.6 L567.6 94.9 L569.1 95.3 L571.4 95.5 L571.6 94.2 L572.8 93.5 L572.4 92.4 L570.8 90.7 L570.8 88.9 L571.5 89.0 L570.5 87.3 L570.4 85.7 L571.0 84.5 L571.0 83.4 L570.0 82.9 L568.2 82.2 L567.3 81.6 L566.0 81.8 L564.6 82.6 L564.5 82.9 L562.0 83.2 L560.2 82.2 L560.2 81.4 L559.3 80.9 L559.6 80.3 L558.4 80.5 L557.7 80.8 L556.7 80.3Z" fill="#c088c4" stroke="#c088c4" stroke-width="0.3" stroke-linejoin="round"/>
<path d="M571.4 95.5 L573.9 95.5 L575.9 95.7 L576.6 96.8 L577.5 97.3 L577.2 96.6 L579.7 96.4 L579.0 95.0 L578.8 92.8 L580.4 92.6 L581.8 90.5 L582.8 89.5 L582.8 87.6 L583.5 88.1 L582.4 87.1 L582.4 85.5 L585.0 84.6 L583.7 83.2 L582.8 82.9 L581.0 83.2 L580.1 83.7 L579.9 85.4 L578.8 86.2 L578.4 87.3 L578.2 88.5 L577.0 88.8 L575.7 89.5 L575.5 90.7 L573.5 91.1 L572.2 91.2 L570.8 90.7 L571.6 92.0 L572.4 92.4 L572.8 93.5 L571.6 94.2Z" fill="#5f84b4" stroke="#5f84b4" stroke-width="0.3" stroke-linejoin="round"/>
<path d="M577.5 97.3 L579.0 97.8 L577.9 98.5 L579.5 100.0 L581.0 99.0 L581.2 99.8 L581.3 101.8 L581.8 104.3 L582.5 105.8 L583.1 107.8 L583.7 108.9 L584.4 110.9 L585.5 112.6 L586.1 111.8 L586.8 111.4 L587.5 110.4 L587.5 109.7 L587.9 107.6 L587.9 105.8 L588.4 105.0 L589.7 104.2 L591.2 102.5 L592.6 101.1 L593.7 100.3 L593.9 99.3 L595.7 99.0 L595.5 96.5 L594.9 94.9 L596.4 94.5 L596.4 95.4 L598.5 95.6 L598.6 96.3 L597.6 96.8 L597.9 97.8 L598.6 97.1 L598.8 98.8 L599.4 98.5 L599.6 96.8 L600.6 95.4 L601.1 94.2 L602.9 92.8 L603.0 92.3 L602.0 91.2 L600.5 91.3 L598.3 92.8 L598.3 93.8 L596.4 93.9 L595.5 93.5 L595.5 92.6 L594.9 92.7 L594.8 94.3 L592.1 94.1 L590.8 93.3 L588.6 92.1 L587.8 91.8 L588.6 90.3 L587.2 89.5 L586.5 88.9 L586.6 87.1 L587.2 85.7 L585.9 84.6 L585.0 84.6 L582.4 85.5 L582.4 87.1 L583.5 88.1 L582.8 87.6 L582.8 89.5 L581.8 90.5 L580.4 92.6 L578.8 92.8 L579.0 95.0 L579.7 96.4 L577.2 96.6Z" fill="#8a86c2" stroke="#8a86c2" stroke-width="0.3" stroke-linejoin="round"/>
<path d="M627.0 79.6 L625.8 79.9 L624.4 80.8 L624.9 79.0 L624.0 78.5 L622.2 80.5 L621.2 80.7 L621.8 81.8 L622.2 82.6 L624.0 82.3 L625.3 82.7 L624.9 83.2 L623.6 83.9 L622.5 85.2 L623.4 86.5 L624.0 87.9 L624.7 88.7 L624.7 89.6 L624.0 90.0 L624.9 90.7 L624.4 92.1 L623.6 93.5 L622.8 95.2 L621.3 96.3 L620.2 97.5 L618.1 98.3 L616.9 98.8 L615.1 99.4 L614.6 100.5 L614.0 99.3 L612.8 99.2 L611.3 98.8 L610.2 97.5 L608.1 98.3 L607.3 98.3 L606.5 99.6 L605.4 99.3 L604.7 98.6 L604.3 96.8 L603.3 96.3 L604.2 94.7 L604.1 93.0 L603.0 92.3 L602.0 91.2 L600.5 91.3 L598.3 92.8 L595.7 93.4 L595.5 92.6 L593.0 92.6 L591.2 91.6 L588.6 90.3 L587.2 89.5 L586.5 88.9 L586.6 87.1 L587.2 85.7 L585.9 84.6 L584.1 84.1 L583.1 82.7 L582.1 80.1 L584.1 79.1 L586.4 77.8 L587.9 77.0 L587.9 75.9 L588.4 73.6 L589.9 73.4 L590.3 71.1 L592.6 71.0 L592.6 69.9 L593.9 68.6 L594.6 68.6 L596.5 70.2 L597.4 71.9 L597.4 73.5 L601.4 74.6 L602.1 76.3 L605.4 76.6 L607.0 76.7 L609.8 77.6 L612.0 76.8 L614.3 76.5 L615.9 75.3 L615.9 73.7 L617.8 73.9 L619.6 72.5 L622.9 71.7 L621.3 70.2 L619.1 70.2 L619.6 68.2 L621.2 68.2 L622.7 67.4 L623.8 65.1 L623.6 63.5 L626.2 63.1 L628.0 63.8 L629.8 67.2 L630.2 68.1 L632.4 69.0 L632.9 70.5 L636.1 69.6 L636.0 70.7 L634.8 73.4 L633.0 73.9 L633.0 76.1 L632.6 76.9 L632.0 76.2 L630.4 77.3 L630.2 77.8 L629.2 77.5Z" fill="#c7406a" stroke="#c7406a" stroke-width="0.3" stroke-linejoin="round"/>
<path d="M613.1 101.6 L613.8 100.8 L615.0 100.8 L615.1 101.3 L614.3 102.4 L613.4 102.4Z" fill="#c7406a" stroke="#c7406a" stroke-width="0.3" stroke-linejoin="round"/>
<path d="M624.4 95.5 L624.8 96.3 L624.3 97.8 L623.8 98.8 L623.3 97.8 L623.6 96.5Z" fill="#c7406a" stroke="#c7406a" stroke-width="0.3" stroke-linejoin="round"/>
<path d="M628.6 82.1 L629.1 82.9 L628.9 84.1 L628.8 85.7 L629.8 85.5 L631.1 85.0 L631.4 84.6 L631.4 82.9 L630.7 81.3 L629.5 81.5Z" fill="#8a8cc8" stroke="#8a8cc8" stroke-width="0.3" stroke-linejoin="round"/>
<path d="M605.4 100.4 L605.8 100.5 L606.5 101.3 L606.5 103.2 L607.3 102.8 L608.5 102.4 L609.6 103.3 L609.7 104.3 L610.4 105.1 L610.0 106.5 L608.1 106.5 L607.5 107.2 L607.6 108.8 L606.3 108.1 L605.8 107.3 L605.4 107.8 L605.2 109.2 L604.8 111.2 L605.7 112.7 L606.3 113.7 L607.2 114.4 L606.5 114.9 L605.7 114.3 L605.0 113.4 L603.9 112.7 L603.9 111.2 L604.2 109.7 L604.7 108.3 L603.8 105.8 L604.2 104.6 L603.4 103.8 L603.5 102.3 L604.5 100.8Z" fill="#5c80b4" stroke="#5c80b4" stroke-width="0.3" stroke-linejoin="round"/>
<path d="M617.8 142.0 L617.4 144.5 L617.4 146.1 L618.2 148.7 L618.7 150.8 L619.1 152.4 L618.7 154.9 L619.6 155.6 L621.3 155.6 L623.1 154.6 L626.2 154.5 L628.4 152.7 L631.1 152.0 L632.9 151.9 L635.1 152.6 L636.4 155.1 L637.3 155.6 L638.6 153.5 L639.1 155.1 L639.5 156.2 L640.4 156.7 L641.3 159.0 L643.9 159.9 L645.3 159.2 L646.4 160.2 L647.9 158.7 L649.7 158.2 L650.1 156.2 L650.9 154.3 L651.9 152.4 L652.4 150.3 L652.9 148.4 L652.5 145.6 L651.0 144.0 L650.4 142.5 L649.3 142.0 L648.4 140.0 L646.4 138.9 L645.9 136.5 L645.5 134.9 L644.2 134.3 L643.9 132.5 L643.1 130.8 L642.3 132.5 L642.3 135.0 L641.5 137.5 L640.4 137.5 L638.9 136.0 L636.9 134.8 L637.3 133.5 L638.0 132.2 L636.4 132.0 L634.2 131.4 L632.9 132.2 L631.8 133.5 L631.5 134.9 L630.2 134.8 L629.3 133.9 L628.0 134.5 L626.7 136.3 L625.2 137.0 L625.1 138.5 L624.0 139.6 L622.2 140.0 L620.5 140.6 L618.7 141.5Z" fill="#6f80b6" stroke="#6f80b6" stroke-width="0.3" stroke-linejoin="round"/>
<path d="M645.0 162.0 L646.6 162.5 L648.2 162.3 L648.2 163.8 L647.5 164.9 L646.2 165.4 L645.5 164.1Z" fill="#6f80b6" stroke="#6f80b6" stroke-width="0.3" stroke-linejoin="round"/>
</g>
<text x="424.00" y="76.50" font-size="9.4" text-anchor="middle" fill="#111" stroke="#111" stroke-width="0.35" font-weight="bold">USA</text>
<text x="424.00" y="85.65" font-size="9.4" text-anchor="middle" fill="#111" stroke="#111" stroke-width="0.35" font-weight="bold">59</text>
<text x="486.80" y="77.70" font-size="9.4" text-anchor="middle" fill="#111" stroke="#111" stroke-width="0.35" font-weight="bold">PORTUGAL</text>
<text x="486.80" y="86.85" font-size="9.4" text-anchor="middle" fill="#111" stroke="#111" stroke-width="0.35" font-weight="bold">33</text>
<text x="535.10" y="69.90" font-size="9.4" text-anchor="middle" fill="#111" stroke="#111" stroke-width="0.35" font-weight="bold">GERMANY</text>
<text x="535.10" y="79.05" font-size="9.4" text-anchor="middle" fill="#111" stroke="#111" stroke-width="0.35" font-weight="bold">95</text>
<text x="519.30" y="93.80" font-size="9.4" text-anchor="middle" fill="#111" stroke="#111" stroke-width="0.35" font-weight="bold">SPAIN</text>
<text x="519.30" y="102.95" font-size="9.4" text-anchor="middle" fill="#111" stroke="#111" stroke-width="0.35" font-weight="bold">38</text>
<text x="566.60" y="89.90" font-size="9.4" text-anchor="middle" fill="#111" stroke="#111" stroke-width="0.35" font-weight="bold">IRAN</text>
<text x="566.60" y="99.05" font-size="9.4" text-anchor="middle" fill="#111" stroke="#111" stroke-width="0.35" font-weight="bold">91</text>
<text x="544.00" y="109.90" font-size="9.4" text-anchor="middle" fill="#111" stroke="#111" stroke-width="0.35" font-weight="bold">EGYPT</text>
<text x="544.00" y="119.05" font-size="9.4" text-anchor="middle" fill="#111" stroke="#111" stroke-width="0.35" font-weight="bold">36</text>
<text x="586.10" y="109.90" font-size="9.4" text-anchor="middle" fill="#111" stroke="#111" stroke-width="0.35" font-weight="bold">INDIA</text>
<text x="586.10" y="119.05" font-size="9.4" text-anchor="middle" fill="#111" stroke="#111" stroke-width="0.35" font-weight="bold">47</text>
<text x="605.60" y="85.50" font-size="9.4" text-anchor="middle" fill="#111" stroke="#111" stroke-width="0.35" font-weight="bold">CHINA</text>
<text x="605.60" y="94.65" font-size="9.4" text-anchor="middle" fill="#111" stroke="#111" stroke-width="0.35" font-weight="bold">388</text>
<text x="649.30" y="91.70" font-size="9.4" text-anchor="middle" fill="#111" stroke="#111" stroke-width="0.35" font-weight="bold">KOREA</text>
<text x="649.30" y="100.85" font-size="9.4" text-anchor="middle" fill="#111" stroke="#111" stroke-width="0.35" font-weight="bold">49</text>
<text x="639.30" y="143.10" font-size="9.4" text-anchor="middle" fill="#111" stroke="#111" stroke-width="0.35" font-weight="bold">AUSTRALIA</text>
<text x="639.30" y="152.25" font-size="9.4" text-anchor="middle" fill="#111" stroke="#111" stroke-width="0.35" font-weight="bold">35</text>
<text transform="translate(365.40 11.90) scale(1.08 1)" font-size="14.5" font-weight="bold" fill="#111" stroke="#111" stroke-width="0.5">b</text>
</g>
<g id="panel-c">
<path d="M196.10 260.80 A97.6 97.6 0 1 1 98.50 358.40 L112.50 358.40 A83.6 83.6 0 1 0 196.10 274.80Z" fill="#8180b9"/>
<text x="191.4" y="270.90" font-size="9.3" text-anchor="end" fill="#8180b9" stroke="#8180b9" stroke-width="0.2" font-weight="bold" xml:space="preserve">Univ Erlangen Nurnberg <tspan font-style="italic">n</tspan>=(61)</text>
<path d="M196.10 279.20 A79.19999999999999 79.19999999999999 0 1 1 129.08 400.60 L140.93 393.14 A65.19999999999999 65.19999999999999 0 1 0 196.10 293.20Z" fill="#a79aba"/>
<text x="191.4" y="289.30" font-size="9.3" text-anchor="end" fill="#a79aba" stroke="#a79aba" stroke-width="0.2" font-weight="bold" xml:space="preserve">Shanghai Jiao Tong Univ  <tspan font-style="italic">n</tspan>=(55)</text>
<path d="M196.10 297.60 A60.8 60.8 0 1 1 173.52 414.85 L178.72 401.85 A46.8 46.8 0 1 0 196.10 311.60Z" fill="#d2a9b1"/>
<text x="191.4" y="307.70" font-size="9.3" text-anchor="end" fill="#d2a9b1" stroke="#d2a9b1" stroke-width="0.2" font-weight="bold" xml:space="preserve">Chinese Acad Sci <tspan font-style="italic">n</tspan>=(46)</text>
<path d="M196.10 316.00 A42.4 42.4 0 0 1 220.90 392.79 L212.71 381.43 A28.4 28.4 0 0 0 196.10 330.00Z" fill="#d9ae82"/>
<text x="191.4" y="326.10" font-size="9.3" text-anchor="end" fill="#d9ae82" stroke="#d9ae82" stroke-width="0.2" font-weight="bold" xml:space="preserve">Dankook Univ <tspan font-style="italic">n</tspan>=(33)</text>
<path d="M196.10 334.40 A24.0 24.0 0 0 1 212.68 375.75 L203.01 365.63 A10.0 10.0 0 0 0 196.10 348.40Z" fill="#d6a590"/>
<text x="191.4" y="344.50" font-size="9.3" text-anchor="end" fill="#d6a590" stroke="#d6a590" stroke-width="0.2" font-weight="bold" xml:space="preserve">Egyptian Knowledge Bank <tspan font-style="italic">n</tspan>=(31)</text>
<text x="180.60" y="249.30" font-size="9.3" text-anchor="middle" fill="#111" stroke="#111" stroke-width="0.3" font-weight="bold">The top 5 institutions ranked by publication volume</text>
<text transform="translate(-0.30 239.80) scale(1.08 1)" font-size="13.8" font-weight="bold" fill="#111" stroke="#111" stroke-width="0.5">c</text>
</g>
<g id="panel-d">
<path d="M532.54 359.69 L494.06 313.83 A85.47 85.47 0 0 1 519.77 298.98 L540.24 355.24 A25.6 25.6 0 0 0 532.54 359.69Z" fill="#7bb7d7"/>
<text x="509.41" y="310.74" font-size="8.2" text-anchor="middle" fill="#fff" stroke="#fff" stroke-width="0.25" transform="rotate(420.0 509.41 310.74)" dy="2.95">37</text>
<text x="506.06" y="303.08" font-size="7.8" text-anchor="end" fill="#111" stroke="#111" stroke-width="0.1" font-weight="bold" transform="rotate(420.0 506.06 303.08)" dy="2.81">Acta biomater.</text>
<path d="M525.99 368.08 L475.07 343.24 A82.25 82.25 0 0 1 491.86 320.13 L531.22 360.88 A25.6 25.6 0 0 0 525.99 368.08Z" fill="#aadade"/>
<text x="487.56" y="334.66" font-size="8.2" text-anchor="middle" fill="#fff" stroke="#fff" stroke-width="0.25" transform="rotate(396.0 487.56 334.66)" dy="2.95">35</text>
<text x="480.03" y="329.19" font-size="7.8" text-anchor="end" fill="#111" stroke="#111" stroke-width="0.1" font-weight="bold" transform="rotate(31.0 480.03 329.19)" dy="2.81">ACS Appl. mater. interfaces</text>
<path d="M523.42 378.41 L471.63 376.60 A77.42 77.42 0 0 1 477.22 350.30 L525.26 369.71 A25.6 25.6 0 0 0 523.42 378.41Z" fill="#9ad9c9"/>
<text x="479.43" y="364.51" font-size="8.2" text-anchor="middle" fill="#fff" stroke="#fff" stroke-width="0.25" transform="rotate(372.0 479.43 364.51)" dy="2.95">32</text>
<text x="471.54" y="362.88" font-size="7.8" text-anchor="end" fill="#111" stroke="#111" stroke-width="0.1" font-weight="bold" transform="rotate(13.5 471.54 362.88)" dy="2.81">J. mater. chem. B</text>
<path d="M525.26 388.89 L483.19 405.89 A70.98 70.98 0 0 1 478.06 381.78 L523.42 380.19 A25.6 25.6 0 0 0 525.26 388.89Z" fill="#8fbf97"/>
<text x="485.73" y="392.75" font-size="8.2" text-anchor="middle" fill="#fff" stroke="#fff" stroke-width="0.25" transform="rotate(348.0 485.73 392.75)" dy="2.95">28</text>
<text x="476.64" y="394.68" font-size="7.8" text-anchor="end" fill="#111" stroke="#111" stroke-width="0.1" font-weight="bold" transform="rotate(-10.0 476.64 394.68)" dy="2.81">Int. J. biol. macromol.</text>
<path d="M531.22 397.72 L506.40 423.41 A61.32 61.32 0 0 1 493.89 406.18 L525.99 390.52 A25.6 25.6 0 0 0 531.22 397.72Z" fill="#d5d07c"/>
<text x="504.49" y="411.64" font-size="8.2" text-anchor="middle" fill="#fff" stroke="#fff" stroke-width="0.25" transform="rotate(324.0 504.49 411.64)" dy="2.95">22</text>
<text x="496.96" y="417.11" font-size="7.8" text-anchor="end" fill="#111" stroke="#111" stroke-width="0.1" font-weight="bold" transform="rotate(324.0 496.96 417.11)" dy="2.81">Mater. sci .eng. C mater. biol. appl.</text>
<path d="M540.24 403.36 L529.68 432.38 A56.49 56.49 0 0 1 512.69 422.57 L532.54 398.91 A25.6 25.6 0 0 0 540.24 403.36Z" fill="#aaa8d4"/>
<text x="523.90" y="422.77" font-size="8.2" text-anchor="middle" fill="#fff" stroke="#fff" stroke-width="0.25" transform="rotate(300.0 523.90 422.77)" dy="2.95">19</text>
<text x="515.25" y="430.82" font-size="7.8" text-anchor="end" fill="#111" stroke="#111" stroke-width="0.1" font-weight="bold" transform="rotate(300.0 515.25 430.82)" dy="2.81">Bioact. mater.</text>
<path d="M550.79 404.84 L552.94 435.65 A56.49 56.49 0 0 1 533.43 433.60 L541.94 403.91 A25.6 25.6 0 0 0 550.79 404.84Z" fill="#aaa8d4"/>
<text x="543.75" y="429.22" font-size="8.2" text-anchor="middle" fill="#fff" stroke="#fff" stroke-width="0.25" transform="rotate(276.0 543.75 429.22)" dy="2.95">19</text>
<text x="539.58" y="438.46" font-size="7.8" text-anchor="end" fill="#111" stroke="#111" stroke-width="0.1" font-weight="bold" transform="rotate(-82.5 539.58 438.46)" dy="2.81">Biomaterials</text>
<path d="M561.02 401.90 L575.52 429.18 A56.49 56.49 0 0 1 556.86 435.24 L552.56 404.65 A25.6 25.6 0 0 0 561.02 401.90Z" fill="#aaa8d4"/>
<text x="564.51" y="427.03" font-size="8.2" text-anchor="middle" fill="#fff" stroke="#fff" stroke-width="0.25" transform="rotate(72.0 564.51 427.03)" dy="2.95">19</text>
<text x="568.88" y="436.38" font-size="7.8" text-anchor="start" fill="#111" stroke="#111" stroke-width="0.1" font-weight="bold" transform="rotate(69.5 568.88 436.38)" dy="2.81">Ceram. int</text>
<path d="M569.17 395.06 L590.98 412.10 A53.27 53.27 0 0 1 577.23 424.48 L562.57 401.01 A25.6 25.6 0 0 0 569.17 395.06Z" fill="#c9b6ac"/>
<text x="580.43" y="414.21" font-size="8.2" text-anchor="middle" fill="#fff" stroke="#fff" stroke-width="0.25" transform="rotate(48.0 580.43 414.21)" dy="2.95">17</text>
<text x="586.65" y="421.12" font-size="7.8" text-anchor="start" fill="#111" stroke="#111" stroke-width="0.1" font-weight="bold" transform="rotate(45.5 586.65 421.12)" dy="2.81">J. mater. sci. mater. med.</text>
<path d="M573.84 385.49 L599.13 391.80 A51.66 51.66 0 0 1 591.83 408.19 L570.22 393.62 A25.6 25.6 0 0 0 573.84 385.49Z" fill="#e0a0ca"/>
<text x="590.44" y="397.75" font-size="8.2" text-anchor="middle" fill="#fff" stroke="#fff" stroke-width="0.25" transform="rotate(24.0 590.44 397.75)" dy="2.95">16</text>
<text x="598.93" y="401.53" font-size="7.8" text-anchor="start" fill="#111" stroke="#111" stroke-width="0.1" font-weight="bold" transform="rotate(21.0 598.93 401.53)" dy="2.81">Adv. healthcare mater.</text>
<path d="M574.21 374.85 L599.88 370.33 A51.66 51.66 0 0 1 599.88 388.27 L574.21 383.75 A25.6 25.6 0 0 0 574.21 374.85Z" fill="#e0a0ca"/>
<text x="594.36" y="379.30" font-size="8.2" text-anchor="middle" fill="#fff" stroke="#fff" stroke-width="0.25" transform="rotate(0.0 594.36 379.30)" dy="2.95">16</text>
<text x="603.26" y="380.40" font-size="7.8" text-anchor="start" fill="#111" stroke="#111" stroke-width="0.1" font-weight="bold" transform="rotate(0.0 603.26 380.40)" dy="2.81">Chem. eng.J</text>
<path d="M570.22 364.98 L590.49 351.31 A50.05 50.05 0 0 1 597.56 367.19 L573.84 373.11 A25.6 25.6 0 0 0 570.22 364.98Z" fill="#e19d7b"/>
<text x="588.97" y="361.51" font-size="8.2" text-anchor="middle" fill="#fff" stroke="#fff" stroke-width="0.25" transform="rotate(-24.0 588.97 361.51)" dy="2.95">15</text>
<text x="596.66" y="358.02" font-size="7.8" text-anchor="start" fill="#111" stroke="#111" stroke-width="0.1" font-weight="bold" transform="rotate(-24.0 596.66 358.02)" dy="2.81">Biomed. mater.</text>
<path d="M562.57 357.59 L575.52 336.86 A50.05 50.05 0 0 1 588.44 348.49 L569.17 363.54 A25.6 25.6 0 0 0 562.57 357.59Z" fill="#e19d7b"/>
<text x="578.27" y="346.79" font-size="8.2" text-anchor="middle" fill="#fff" stroke="#fff" stroke-width="0.25" transform="rotate(-48.0 578.27 346.79)" dy="2.95">15</text>
<text x="584.50" y="339.88" font-size="7.8" text-anchor="start" fill="#111" stroke="#111" stroke-width="0.1" font-weight="bold" transform="rotate(-48.0 584.50 339.88)" dy="2.81">Pharmaceutics</text>
<path d="M552.56 353.95 L555.74 331.33 A48.44 48.44 0 0 1 571.74 336.53 L561.02 356.70 A25.6 25.6 0 0 0 552.56 353.95Z" fill="#aeaeae"/>
<text x="562.02" y="339.22" font-size="8.2" text-anchor="middle" fill="#fff" stroke="#fff" stroke-width="0.25" transform="rotate(-72.0 562.02 339.22)" dy="2.95">14</text>
<text x="564.90" y="330.38" font-size="7.8" text-anchor="start" fill="#111" stroke="#111" stroke-width="0.1" font-weight="bold" transform="rotate(-70.0 564.90 330.38)" dy="2.81">Colloids surf. B biointerfaces</text>
<path d="M541.94 354.69 L535.65 332.74 A48.44 48.44 0 0 1 552.38 330.98 L550.79 353.76 A25.6 25.6 0 0 0 541.94 354.69Z" fill="#aeaeae"/>
<text x="544.60" y="337.39" font-size="8.2" text-anchor="middle" fill="#fff" stroke="#fff" stroke-width="0.25" transform="rotate(84.0 544.60 337.39)" dy="2.95">14</text>
<text x="543.62" y="328.14" font-size="7.8" text-anchor="start" fill="#111" stroke="#111" stroke-width="0.1" font-weight="bold" transform="rotate(-95.0 543.62 328.14)" dy="2.81">Int. J. nanomed.</text>
<text transform="translate(365.30 240.00) scale(1.08 1)" font-size="15.5" font-weight="bold" fill="#111" stroke="#111" stroke-width="0.5">d</text>
</g>
</svg>
</body></html>
